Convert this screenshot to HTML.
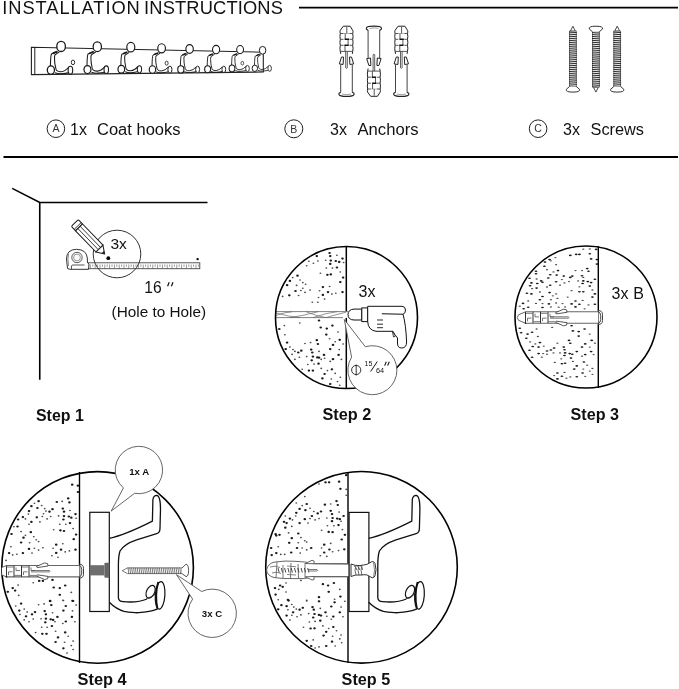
<!DOCTYPE html>
<html><head><meta charset="utf-8"><style>html,body{margin:0;padding:0;background:#fff;}svg{display:block;will-change:transform}</style></head>
<body><svg width="679" height="689" viewBox="0 0 679 689">
<rect width="679" height="689" fill="#fff"/>
<text x="2.3" y="14.2" font-family="Liberation Sans, sans-serif" font-size="18.3" textLength="137.5" lengthAdjust="spacing" fill="#111">INSTALLATION</text>
<text x="144.1" y="14.2" font-family="Liberation Sans, sans-serif" font-size="18.3" textLength="138.8" lengthAdjust="spacing" fill="#111">INSTRUCTIONS</text>
<line x1="299" y1="7.6" x2="678" y2="7.6" stroke="#000" stroke-width="1.6"/>
<line x1="3.5" y1="157.1" x2="678" y2="157.1" stroke="#000" stroke-width="2"/>
<circle cx="55.9" cy="128.7" r="8.8" fill="none" stroke="#222" stroke-width="1"/>
<text x="55.9" y="132.39999999999998" font-family="Liberation Sans, sans-serif" font-size="10.5" text-anchor="middle" fill="#333">A</text>
<circle cx="293.8" cy="128.8" r="9" fill="none" stroke="#222" stroke-width="1"/>
<text x="293.8" y="132.5" font-family="Liberation Sans, sans-serif" font-size="10.5" text-anchor="middle" fill="#333">B</text>
<circle cx="538.1" cy="128.7" r="8.8" fill="none" stroke="#222" stroke-width="1"/>
<text x="538.1" y="132.39999999999998" font-family="Liberation Sans, sans-serif" font-size="10.5" text-anchor="middle" fill="#333">C</text>
<text x="70" y="134.8" font-family="Liberation Sans, sans-serif" font-size="16" fill="#111">1x</text>
<text x="97" y="134.8" font-family="Liberation Sans, sans-serif" font-size="16" textLength="83.5" lengthAdjust="spacingAndGlyphs" fill="#111">Coat hooks</text>
<text x="330" y="134.8" font-family="Liberation Sans, sans-serif" font-size="16" fill="#111">3x</text>
<text x="357.5" y="134.8" font-family="Liberation Sans, sans-serif" font-size="16" textLength="61" lengthAdjust="spacingAndGlyphs" fill="#111">Anchors</text>
<text x="563" y="134.8" font-family="Liberation Sans, sans-serif" font-size="16" fill="#111">3x</text>
<text x="590.5" y="134.8" font-family="Liberation Sans, sans-serif" font-size="16" textLength="53.5" lengthAdjust="spacingAndGlyphs" fill="#111">Screws</text>
<path d="M31.4 47.2 L263.3 52.2 L263.3 72 L31.4 74.6 Z" fill="#fff" stroke="#222" stroke-width="1.1"/>
<line x1="34.8" y1="47.3" x2="34.8" y2="74.5" stroke="#222" stroke-width="1"/>
<g transform="translate(61.1,46.4) scale(1.0)" fill="#fff" stroke="#1a1a1a" stroke-width="1.1"><path d="M-3.5 5 L-9.6 7.6 Q-10.5 9 -10.7 20 M-1.7 5.5 L-6.1 8.4 Q-6.8 10 -6.6 11.9 Q-6.5 17 -5.8 19.5 Q-5 24 -4.3 24.1 Q-3 25.5 0 25.3 Q4 25 7.9 20.6 M-6.1 26.4 Q-3 27.6 0 27.4 Q5 27 8 26.2" fill="none"/><path d="M-8.3 7 L-4 5.3" fill="none" stroke-width="1.8"/><ellipse cx="0" cy="0" rx="4.3" ry="5.1" stroke-width="1.3"/><ellipse cx="-10.2" cy="23.7" rx="3.6" ry="4.2" stroke-width="1.3"/><ellipse cx="9.3" cy="23.8" rx="2.3" ry="3.9" stroke-width="1.1"/><ellipse cx="11.9" cy="16" rx="1.7" ry="2.3" stroke-width="0.9"/></g>
<g transform="translate(97.3,46.7) scale(0.965)" fill="#fff" stroke="#1a1a1a" stroke-width="1.1"><path d="M-3.5 5 L-9.6 7.6 Q-10.5 9 -10.7 20 M-1.7 5.5 L-6.1 8.4 Q-6.8 10 -6.6 11.9 Q-6.5 17 -5.8 19.5 Q-5 24 -4.3 24.1 Q-3 25.5 0 25.3 Q4 25 7.9 20.6 M-6.1 26.4 Q-3 27.6 0 27.4 Q5 27 8 26.2" fill="none"/><path d="M-8.3 7 L-4 5.3" fill="none" stroke-width="1.8"/><ellipse cx="0" cy="0" rx="4.3" ry="5.1" stroke-width="1.3"/><ellipse cx="-10.2" cy="23.7" rx="3.6" ry="4.2" stroke-width="1.3"/><ellipse cx="9.3" cy="23.8" rx="2.3" ry="3.9" stroke-width="1.1"/></g>
<g transform="translate(130.8,47.2) scale(0.93)" fill="#fff" stroke="#1a1a1a" stroke-width="1.1"><path d="M-3.5 5 L-9.6 7.6 Q-10.5 9 -10.7 20 M-1.7 5.5 L-6.1 8.4 Q-6.8 10 -6.6 11.9 Q-6.5 17 -5.8 19.5 Q-5 24 -4.3 24.1 Q-3 25.5 0 25.3 Q4 25 7.9 20.6 M-6.1 26.4 Q-3 27.6 0 27.4 Q5 27 8 26.2" fill="none"/><path d="M-8.3 7 L-4 5.3" fill="none" stroke-width="1.8"/><ellipse cx="0" cy="0" rx="4.3" ry="5.1" stroke-width="1.3"/><ellipse cx="-10.2" cy="23.7" rx="3.6" ry="4.2" stroke-width="1.3"/><ellipse cx="9.3" cy="23.8" rx="2.3" ry="3.9" stroke-width="1.1"/></g>
<g transform="translate(161.6,48.3) scale(0.895)" fill="#fff" stroke="#1a1a1a" stroke-width="1.1"><path d="M-3.5 5 L-9.6 7.6 Q-10.5 9 -10.7 20 M-1.7 5.5 L-6.1 8.4 Q-6.8 10 -6.6 11.9 Q-6.5 17 -5.8 19.5 Q-5 24 -4.3 24.1 Q-3 25.5 0 25.3 Q4 25 7.9 20.6 M-6.1 26.4 Q-3 27.6 0 27.4 Q5 27 8 26.2" fill="none"/><path d="M-8.3 7 L-4 5.3" fill="none" stroke-width="1.8"/><ellipse cx="0" cy="0" rx="4.3" ry="5.1" stroke-width="1.3"/><ellipse cx="-10.2" cy="23.7" rx="3.6" ry="4.2" stroke-width="1.3"/><ellipse cx="9.3" cy="23.8" rx="2.3" ry="3.9" stroke-width="1.1"/><ellipse cx="5.6" cy="16.6" rx="1.7" ry="2.3" stroke-width="0.9"/></g>
<g transform="translate(189.6,49) scale(0.86)" fill="#fff" stroke="#1a1a1a" stroke-width="1.1"><path d="M-3.5 5 L-9.6 7.6 Q-10.5 9 -10.7 20 M-1.7 5.5 L-6.1 8.4 Q-6.8 10 -6.6 11.9 Q-6.5 17 -5.8 19.5 Q-5 24 -4.3 24.1 Q-3 25.5 0 25.3 Q4 25 7.9 20.6 M-6.1 26.4 Q-3 27.6 0 27.4 Q5 27 8 26.2" fill="none"/><path d="M-8.3 7 L-4 5.3" fill="none" stroke-width="1.8"/><ellipse cx="0" cy="0" rx="4.3" ry="5.1" stroke-width="1.3"/><ellipse cx="-10.2" cy="23.7" rx="3.6" ry="4.2" stroke-width="1.3"/><ellipse cx="9.3" cy="23.8" rx="2.3" ry="3.9" stroke-width="1.1"/></g>
<g transform="translate(216.1,49.6) scale(0.83)" fill="#fff" stroke="#1a1a1a" stroke-width="1.1"><path d="M-3.5 5 L-9.6 7.6 Q-10.5 9 -10.7 20 M-1.7 5.5 L-6.1 8.4 Q-6.8 10 -6.6 11.9 Q-6.5 17 -5.8 19.5 Q-5 24 -4.3 24.1 Q-3 25.5 0 25.3 Q4 25 7.9 20.6 M-6.1 26.4 Q-3 27.6 0 27.4 Q5 27 8 26.2" fill="none"/><path d="M-8.3 7 L-4 5.3" fill="none" stroke-width="1.8"/><ellipse cx="0" cy="0" rx="4.3" ry="5.1" stroke-width="1.3"/><ellipse cx="-10.2" cy="23.7" rx="3.6" ry="4.2" stroke-width="1.3"/><ellipse cx="9.3" cy="23.8" rx="2.3" ry="3.9" stroke-width="1.1"/></g>
<g transform="translate(240.1,49.6) scale(0.795)" fill="#fff" stroke="#1a1a1a" stroke-width="1.1"><path d="M-3.5 5 L-9.6 7.6 Q-10.5 9 -10.7 20 M-1.7 5.5 L-6.1 8.4 Q-6.8 10 -6.6 11.9 Q-6.5 17 -5.8 19.5 Q-5 24 -4.3 24.1 Q-3 25.5 0 25.3 Q4 25 7.9 20.6 M-6.1 26.4 Q-3 27.6 0 27.4 Q5 27 8 26.2" fill="none"/><path d="M-8.3 7 L-4 5.3" fill="none" stroke-width="1.8"/><ellipse cx="0" cy="0" rx="4.3" ry="5.1" stroke-width="1.3"/><ellipse cx="-10.2" cy="23.7" rx="3.6" ry="4.2" stroke-width="1.3"/><ellipse cx="9.3" cy="23.8" rx="2.3" ry="3.9" stroke-width="1.1"/><ellipse cx="2.8" cy="17.1" rx="1.7" ry="2.3" stroke-width="0.9"/></g>
<g transform="translate(262.6,50.3) scale(0.76)" fill="#fff" stroke="#1a1a1a" stroke-width="1.1"><path d="M-3.5 5 L-9.6 7.6 Q-10.5 9 -10.7 20 M-1.7 5.5 L-6.1 8.4 Q-6.8 10 -6.6 11.9 Q-6.5 17 -5.8 19.5 Q-5 24 -4.3 24.1 Q-3 25.5 0 25.3 Q4 25 7.9 20.6 M-6.1 26.4 Q-3 27.6 0 27.4 Q5 27 8 26.2" fill="none"/><path d="M-8.3 7 L-4 5.3" fill="none" stroke-width="1.8"/><ellipse cx="0" cy="0" rx="4.3" ry="5.1" stroke-width="1.3"/><ellipse cx="-10.2" cy="23.7" rx="3.6" ry="4.2" stroke-width="1.3"/><ellipse cx="9.3" cy="23.8" rx="2.3" ry="3.9" stroke-width="1.1"/></g>
<g transform="translate(346.5,25.9)" fill="#fff" stroke="#222" stroke-width="0.9"><path d="M-5.8 38.5 L-5.8 67.2 M5.8 38.5 L5.8 67.2" fill="none" stroke="#444" stroke-width="1"/><path d="M-5.8 66.5 Q-8 67 -7.5 68.6 Q-7 70.5 0 70.5 Q7 70.5 7.5 68.6 Q8 67 5.8 66.5" stroke-width="1.1"/><path d="M-4.5 68.2 Q0 69.2 4.5 68.2" fill="none" stroke="#777" stroke-width="0.7"/><path d="M-0.8 25.5 L-0.8 40 Q-1.2 42.5 0 42.5 Q1.2 42.5 0.8 40 L0.8 25.5" fill="#fff" stroke="#333" stroke-width="0.8"/><path d="M-3.2 0.3 L3.6 0.3 L6.2 4.4 Q6.9 6 6.2 7.6 Q6.9 10.5 6.2 13.4 Q6.9 16.4 6.2 19.4 Q6.9 22.4 6.2 25.5 L5.8 28 M-3.2 0.3 L-6.2 4.4 Q-6.9 6 -6.2 7.6 Q-6.9 10.5 -6.2 13.4 Q-6.9 16.4 -6.2 19.4 Q-6.9 22.4 -6.2 25.5 L-5.8 28" stroke-width="1"/><path d="M-6.2 7.6 L-3 7.6 M3 7.6 L6.2 7.6 M-6.2 13.4 L-3 13.4 M3 13.4 L6.2 13.4 M-6.2 19.4 L-3 19.4 M3 19.4 L6.2 19.4 M-6.2 25.5 L6.2 25.5" fill="none" stroke="#444" stroke-width="0.9"/><path d="M-3 7.6 L3 7.6 M-3 19.4 L-2 19.4 M2.2 13.4 L3 13.4" fill="none" stroke="#999" stroke-width="0.7"/><path d="M0.3 1 L0.3 7.6 M-1.3 7.6 L-1.3 13.4 M1.6 13.4 L1.6 19.4 M-1.5 19.4 L-1.5 25.5" fill="none" stroke="#444" stroke-width="0.9"/><path d="M-1.8 13.4 L2.5 13.4 M-2 19.4 L2.2 19.4" fill="none" stroke="#111" stroke-width="1.6"/><path d="M-5 31.1 L-3 31.1 L-3.4 38.6 L-7.2 38 Z M5 31.1 L3 31.1 L3.4 38.6 L7.2 38 Z" stroke="#222" stroke-width="1"/></g>
<g transform="translate(373.9,25.9) translate(0,70.7) scale(1,-1)" fill="#fff" stroke="#222" stroke-width="0.9"><path d="M-5.8 38.5 L-5.8 67.2 M5.8 38.5 L5.8 67.2" fill="none" stroke="#444" stroke-width="1"/><path d="M-5.8 66.5 Q-8 67 -7.5 68.6 Q-7 70.5 0 70.5 Q7 70.5 7.5 68.6 Q8 67 5.8 66.5" stroke-width="1.1"/><path d="M-4.5 68.2 Q0 69.2 4.5 68.2" fill="none" stroke="#777" stroke-width="0.7"/><path d="M-0.8 25.5 L-0.8 40 Q-1.2 42.5 0 42.5 Q1.2 42.5 0.8 40 L0.8 25.5" fill="#fff" stroke="#333" stroke-width="0.8"/><path d="M-3.2 0.3 L3.6 0.3 L6.2 4.4 Q6.9 6 6.2 7.6 Q6.9 10.5 6.2 13.4 Q6.9 16.4 6.2 19.4 Q6.9 22.4 6.2 25.5 L5.8 28 M-3.2 0.3 L-6.2 4.4 Q-6.9 6 -6.2 7.6 Q-6.9 10.5 -6.2 13.4 Q-6.9 16.4 -6.2 19.4 Q-6.9 22.4 -6.2 25.5 L-5.8 28" stroke-width="1"/><path d="M-6.2 7.6 L-3 7.6 M3 7.6 L6.2 7.6 M-6.2 13.4 L-3 13.4 M3 13.4 L6.2 13.4 M-6.2 19.4 L-3 19.4 M3 19.4 L6.2 19.4 M-6.2 25.5 L6.2 25.5" fill="none" stroke="#444" stroke-width="0.9"/><path d="M-3 7.6 L3 7.6 M-3 19.4 L-2 19.4 M2.2 13.4 L3 13.4" fill="none" stroke="#999" stroke-width="0.7"/><path d="M0.3 1 L0.3 7.6 M-1.3 7.6 L-1.3 13.4 M1.6 13.4 L1.6 19.4 M-1.5 19.4 L-1.5 25.5" fill="none" stroke="#444" stroke-width="0.9"/><path d="M-1.8 13.4 L2.5 13.4 M-2 19.4 L2.2 19.4" fill="none" stroke="#111" stroke-width="1.6"/><path d="M-5 31.1 L-3 31.1 L-3.4 38.6 L-7.2 38 Z M5 31.1 L3 31.1 L3.4 38.6 L7.2 38 Z" stroke="#222" stroke-width="1"/></g>
<g transform="translate(401.3,25.9)" fill="#fff" stroke="#222" stroke-width="0.9"><path d="M-5.8 38.5 L-5.8 67.2 M5.8 38.5 L5.8 67.2" fill="none" stroke="#444" stroke-width="1"/><path d="M-5.8 66.5 Q-8 67 -7.5 68.6 Q-7 70.5 0 70.5 Q7 70.5 7.5 68.6 Q8 67 5.8 66.5" stroke-width="1.1"/><path d="M-4.5 68.2 Q0 69.2 4.5 68.2" fill="none" stroke="#777" stroke-width="0.7"/><path d="M-0.8 25.5 L-0.8 40 Q-1.2 42.5 0 42.5 Q1.2 42.5 0.8 40 L0.8 25.5" fill="#fff" stroke="#333" stroke-width="0.8"/><path d="M-3.2 0.3 L3.6 0.3 L6.2 4.4 Q6.9 6 6.2 7.6 Q6.9 10.5 6.2 13.4 Q6.9 16.4 6.2 19.4 Q6.9 22.4 6.2 25.5 L5.8 28 M-3.2 0.3 L-6.2 4.4 Q-6.9 6 -6.2 7.6 Q-6.9 10.5 -6.2 13.4 Q-6.9 16.4 -6.2 19.4 Q-6.9 22.4 -6.2 25.5 L-5.8 28" stroke-width="1"/><path d="M-6.2 7.6 L-3 7.6 M3 7.6 L6.2 7.6 M-6.2 13.4 L-3 13.4 M3 13.4 L6.2 13.4 M-6.2 19.4 L-3 19.4 M3 19.4 L6.2 19.4 M-6.2 25.5 L6.2 25.5" fill="none" stroke="#444" stroke-width="0.9"/><path d="M-3 7.6 L3 7.6 M-3 19.4 L-2 19.4 M2.2 13.4 L3 13.4" fill="none" stroke="#999" stroke-width="0.7"/><path d="M0.3 1 L0.3 7.6 M-1.3 7.6 L-1.3 13.4 M1.6 13.4 L1.6 19.4 M-1.5 19.4 L-1.5 25.5" fill="none" stroke="#444" stroke-width="0.9"/><path d="M-1.8 13.4 L2.5 13.4 M-2 19.4 L2.2 19.4" fill="none" stroke="#111" stroke-width="1.6"/><path d="M-5 31.1 L-3 31.1 L-3.4 38.6 L-7.2 38 Z M5 31.1 L3 31.1 L3.4 38.6 L7.2 38 Z" stroke="#222" stroke-width="1"/></g>
<g transform="translate(572.9,25.9)" fill="#fff" stroke="#333" stroke-width="0.8"><path d="M0 0.3 L-2.5 5.2 L2.5 5.2 Z" stroke-width="0.9"/><rect x="-3.4" y="5.2" width="6.8" height="55.4" fill="#e4e4e4" stroke="#666" stroke-width="0.8"/><line x1="-3.9" y1="6.20" x2="3.9" y2="6.70" stroke="#1a1a1a" stroke-width="0.9"/><line x1="-3.9" y1="8.27" x2="3.9" y2="8.77" stroke="#1a1a1a" stroke-width="0.9"/><line x1="-3.9" y1="10.34" x2="3.9" y2="10.84" stroke="#1a1a1a" stroke-width="0.9"/><line x1="-3.9" y1="12.41" x2="3.9" y2="12.91" stroke="#1a1a1a" stroke-width="0.9"/><line x1="-3.9" y1="14.48" x2="3.9" y2="14.98" stroke="#1a1a1a" stroke-width="0.9"/><line x1="-3.9" y1="16.55" x2="3.9" y2="17.05" stroke="#1a1a1a" stroke-width="0.9"/><line x1="-3.9" y1="18.62" x2="3.9" y2="19.12" stroke="#1a1a1a" stroke-width="0.9"/><line x1="-3.9" y1="20.69" x2="3.9" y2="21.19" stroke="#1a1a1a" stroke-width="0.9"/><line x1="-3.9" y1="22.76" x2="3.9" y2="23.26" stroke="#1a1a1a" stroke-width="0.9"/><line x1="-3.9" y1="24.83" x2="3.9" y2="25.33" stroke="#1a1a1a" stroke-width="0.9"/><line x1="-3.9" y1="26.90" x2="3.9" y2="27.40" stroke="#1a1a1a" stroke-width="0.9"/><line x1="-3.9" y1="28.97" x2="3.9" y2="29.47" stroke="#1a1a1a" stroke-width="0.9"/><line x1="-3.9" y1="31.04" x2="3.9" y2="31.54" stroke="#1a1a1a" stroke-width="0.9"/><line x1="-3.9" y1="33.11" x2="3.9" y2="33.61" stroke="#1a1a1a" stroke-width="0.9"/><line x1="-3.9" y1="35.18" x2="3.9" y2="35.68" stroke="#1a1a1a" stroke-width="0.9"/><line x1="-3.9" y1="37.25" x2="3.9" y2="37.75" stroke="#1a1a1a" stroke-width="0.9"/><line x1="-3.9" y1="39.32" x2="3.9" y2="39.82" stroke="#1a1a1a" stroke-width="0.9"/><line x1="-3.9" y1="41.39" x2="3.9" y2="41.89" stroke="#1a1a1a" stroke-width="0.9"/><line x1="-3.9" y1="43.46" x2="3.9" y2="43.96" stroke="#1a1a1a" stroke-width="0.9"/><line x1="-3.9" y1="45.53" x2="3.9" y2="46.03" stroke="#1a1a1a" stroke-width="0.9"/><line x1="-3.9" y1="47.60" x2="3.9" y2="48.10" stroke="#1a1a1a" stroke-width="0.9"/><line x1="-3.9" y1="49.67" x2="3.9" y2="50.17" stroke="#1a1a1a" stroke-width="0.9"/><line x1="-3.9" y1="51.74" x2="3.9" y2="52.24" stroke="#1a1a1a" stroke-width="0.9"/><line x1="-3.9" y1="53.81" x2="3.9" y2="54.31" stroke="#1a1a1a" stroke-width="0.9"/><line x1="-3.9" y1="55.88" x2="3.9" y2="56.38" stroke="#1a1a1a" stroke-width="0.9"/><line x1="-3.9" y1="57.95" x2="3.9" y2="58.45" stroke="#1a1a1a" stroke-width="0.9"/><line x1="-3.9" y1="60.02" x2="3.9" y2="60.52" stroke="#1a1a1a" stroke-width="0.9"/><path d="M-3.4 60.6 L-6.6 63.4 Q-7.6 66.2 0 66.2 Q7.6 66.2 6.6 63.4 L3.4 60.6" stroke-width="1"/></g>
<g transform="translate(595.9,25.9) translate(0,66.5) scale(1,-1)" fill="#fff" stroke="#333" stroke-width="0.8"><path d="M0 0.3 L-2.5 5.2 L2.5 5.2 Z" stroke-width="0.9"/><rect x="-3.4" y="5.2" width="6.8" height="55.4" fill="#e4e4e4" stroke="#666" stroke-width="0.8"/><line x1="-3.9" y1="6.20" x2="3.9" y2="6.70" stroke="#1a1a1a" stroke-width="0.9"/><line x1="-3.9" y1="8.27" x2="3.9" y2="8.77" stroke="#1a1a1a" stroke-width="0.9"/><line x1="-3.9" y1="10.34" x2="3.9" y2="10.84" stroke="#1a1a1a" stroke-width="0.9"/><line x1="-3.9" y1="12.41" x2="3.9" y2="12.91" stroke="#1a1a1a" stroke-width="0.9"/><line x1="-3.9" y1="14.48" x2="3.9" y2="14.98" stroke="#1a1a1a" stroke-width="0.9"/><line x1="-3.9" y1="16.55" x2="3.9" y2="17.05" stroke="#1a1a1a" stroke-width="0.9"/><line x1="-3.9" y1="18.62" x2="3.9" y2="19.12" stroke="#1a1a1a" stroke-width="0.9"/><line x1="-3.9" y1="20.69" x2="3.9" y2="21.19" stroke="#1a1a1a" stroke-width="0.9"/><line x1="-3.9" y1="22.76" x2="3.9" y2="23.26" stroke="#1a1a1a" stroke-width="0.9"/><line x1="-3.9" y1="24.83" x2="3.9" y2="25.33" stroke="#1a1a1a" stroke-width="0.9"/><line x1="-3.9" y1="26.90" x2="3.9" y2="27.40" stroke="#1a1a1a" stroke-width="0.9"/><line x1="-3.9" y1="28.97" x2="3.9" y2="29.47" stroke="#1a1a1a" stroke-width="0.9"/><line x1="-3.9" y1="31.04" x2="3.9" y2="31.54" stroke="#1a1a1a" stroke-width="0.9"/><line x1="-3.9" y1="33.11" x2="3.9" y2="33.61" stroke="#1a1a1a" stroke-width="0.9"/><line x1="-3.9" y1="35.18" x2="3.9" y2="35.68" stroke="#1a1a1a" stroke-width="0.9"/><line x1="-3.9" y1="37.25" x2="3.9" y2="37.75" stroke="#1a1a1a" stroke-width="0.9"/><line x1="-3.9" y1="39.32" x2="3.9" y2="39.82" stroke="#1a1a1a" stroke-width="0.9"/><line x1="-3.9" y1="41.39" x2="3.9" y2="41.89" stroke="#1a1a1a" stroke-width="0.9"/><line x1="-3.9" y1="43.46" x2="3.9" y2="43.96" stroke="#1a1a1a" stroke-width="0.9"/><line x1="-3.9" y1="45.53" x2="3.9" y2="46.03" stroke="#1a1a1a" stroke-width="0.9"/><line x1="-3.9" y1="47.60" x2="3.9" y2="48.10" stroke="#1a1a1a" stroke-width="0.9"/><line x1="-3.9" y1="49.67" x2="3.9" y2="50.17" stroke="#1a1a1a" stroke-width="0.9"/><line x1="-3.9" y1="51.74" x2="3.9" y2="52.24" stroke="#1a1a1a" stroke-width="0.9"/><line x1="-3.9" y1="53.81" x2="3.9" y2="54.31" stroke="#1a1a1a" stroke-width="0.9"/><line x1="-3.9" y1="55.88" x2="3.9" y2="56.38" stroke="#1a1a1a" stroke-width="0.9"/><line x1="-3.9" y1="57.95" x2="3.9" y2="58.45" stroke="#1a1a1a" stroke-width="0.9"/><line x1="-3.9" y1="60.02" x2="3.9" y2="60.52" stroke="#1a1a1a" stroke-width="0.9"/><path d="M-3.4 60.6 L-6.6 63.4 Q-7.6 66.2 0 66.2 Q7.6 66.2 6.6 63.4 L3.4 60.6" stroke-width="1"/></g>
<g transform="translate(617.2,25.9)" fill="#fff" stroke="#333" stroke-width="0.8"><path d="M0 0.3 L-2.5 5.2 L2.5 5.2 Z" stroke-width="0.9"/><rect x="-3.4" y="5.2" width="6.8" height="55.4" fill="#e4e4e4" stroke="#666" stroke-width="0.8"/><line x1="-3.9" y1="6.20" x2="3.9" y2="6.70" stroke="#1a1a1a" stroke-width="0.9"/><line x1="-3.9" y1="8.27" x2="3.9" y2="8.77" stroke="#1a1a1a" stroke-width="0.9"/><line x1="-3.9" y1="10.34" x2="3.9" y2="10.84" stroke="#1a1a1a" stroke-width="0.9"/><line x1="-3.9" y1="12.41" x2="3.9" y2="12.91" stroke="#1a1a1a" stroke-width="0.9"/><line x1="-3.9" y1="14.48" x2="3.9" y2="14.98" stroke="#1a1a1a" stroke-width="0.9"/><line x1="-3.9" y1="16.55" x2="3.9" y2="17.05" stroke="#1a1a1a" stroke-width="0.9"/><line x1="-3.9" y1="18.62" x2="3.9" y2="19.12" stroke="#1a1a1a" stroke-width="0.9"/><line x1="-3.9" y1="20.69" x2="3.9" y2="21.19" stroke="#1a1a1a" stroke-width="0.9"/><line x1="-3.9" y1="22.76" x2="3.9" y2="23.26" stroke="#1a1a1a" stroke-width="0.9"/><line x1="-3.9" y1="24.83" x2="3.9" y2="25.33" stroke="#1a1a1a" stroke-width="0.9"/><line x1="-3.9" y1="26.90" x2="3.9" y2="27.40" stroke="#1a1a1a" stroke-width="0.9"/><line x1="-3.9" y1="28.97" x2="3.9" y2="29.47" stroke="#1a1a1a" stroke-width="0.9"/><line x1="-3.9" y1="31.04" x2="3.9" y2="31.54" stroke="#1a1a1a" stroke-width="0.9"/><line x1="-3.9" y1="33.11" x2="3.9" y2="33.61" stroke="#1a1a1a" stroke-width="0.9"/><line x1="-3.9" y1="35.18" x2="3.9" y2="35.68" stroke="#1a1a1a" stroke-width="0.9"/><line x1="-3.9" y1="37.25" x2="3.9" y2="37.75" stroke="#1a1a1a" stroke-width="0.9"/><line x1="-3.9" y1="39.32" x2="3.9" y2="39.82" stroke="#1a1a1a" stroke-width="0.9"/><line x1="-3.9" y1="41.39" x2="3.9" y2="41.89" stroke="#1a1a1a" stroke-width="0.9"/><line x1="-3.9" y1="43.46" x2="3.9" y2="43.96" stroke="#1a1a1a" stroke-width="0.9"/><line x1="-3.9" y1="45.53" x2="3.9" y2="46.03" stroke="#1a1a1a" stroke-width="0.9"/><line x1="-3.9" y1="47.60" x2="3.9" y2="48.10" stroke="#1a1a1a" stroke-width="0.9"/><line x1="-3.9" y1="49.67" x2="3.9" y2="50.17" stroke="#1a1a1a" stroke-width="0.9"/><line x1="-3.9" y1="51.74" x2="3.9" y2="52.24" stroke="#1a1a1a" stroke-width="0.9"/><line x1="-3.9" y1="53.81" x2="3.9" y2="54.31" stroke="#1a1a1a" stroke-width="0.9"/><line x1="-3.9" y1="55.88" x2="3.9" y2="56.38" stroke="#1a1a1a" stroke-width="0.9"/><line x1="-3.9" y1="57.95" x2="3.9" y2="58.45" stroke="#1a1a1a" stroke-width="0.9"/><line x1="-3.9" y1="60.02" x2="3.9" y2="60.52" stroke="#1a1a1a" stroke-width="0.9"/><path d="M-3.4 60.6 L-6.6 63.4 Q-7.6 66.2 0 66.2 Q7.6 66.2 6.6 63.4 L3.4 60.6" stroke-width="1"/></g>
<path d="M12.2 188.4 L39.75 202.5 L207.5 202.5 M39.75 202.5 L39.75 379.8" fill="none" stroke="#000" stroke-width="1.6"/>
<rect x="86" y="262.8" width="113.8" height="5.9" fill="#fff" stroke="#444" stroke-width="0.9"/>
<line x1="88.0" y1="264.5" x2="88.0" y2="266.7" stroke="#555" stroke-width="0.6"/><line x1="90.4" y1="264.5" x2="90.4" y2="268.7" stroke="#555" stroke-width="0.6"/><line x1="92.8" y1="264.5" x2="92.8" y2="266.7" stroke="#555" stroke-width="0.6"/><line x1="95.2" y1="264.5" x2="95.2" y2="268.7" stroke="#555" stroke-width="0.6"/><line x1="97.6" y1="264.5" x2="97.6" y2="266.7" stroke="#555" stroke-width="0.6"/><line x1="100.0" y1="264.5" x2="100.0" y2="268.7" stroke="#555" stroke-width="0.6"/><line x1="102.4" y1="264.5" x2="102.4" y2="266.7" stroke="#555" stroke-width="0.6"/><line x1="104.8" y1="264.5" x2="104.8" y2="268.7" stroke="#555" stroke-width="0.6"/><line x1="107.2" y1="264.5" x2="107.2" y2="266.7" stroke="#555" stroke-width="0.6"/><line x1="109.6" y1="264.5" x2="109.6" y2="268.7" stroke="#555" stroke-width="0.6"/><line x1="112.0" y1="264.5" x2="112.0" y2="266.7" stroke="#555" stroke-width="0.6"/><line x1="114.4" y1="264.5" x2="114.4" y2="268.7" stroke="#555" stroke-width="0.6"/><line x1="116.8" y1="264.5" x2="116.8" y2="266.7" stroke="#555" stroke-width="0.6"/><line x1="119.2" y1="264.5" x2="119.2" y2="268.7" stroke="#555" stroke-width="0.6"/><line x1="121.6" y1="264.5" x2="121.6" y2="266.7" stroke="#555" stroke-width="0.6"/><line x1="124.0" y1="264.5" x2="124.0" y2="268.7" stroke="#555" stroke-width="0.6"/><line x1="126.4" y1="264.5" x2="126.4" y2="266.7" stroke="#555" stroke-width="0.6"/><line x1="128.8" y1="264.5" x2="128.8" y2="268.7" stroke="#555" stroke-width="0.6"/><line x1="131.2" y1="264.5" x2="131.2" y2="266.7" stroke="#555" stroke-width="0.6"/><line x1="133.6" y1="264.5" x2="133.6" y2="268.7" stroke="#555" stroke-width="0.6"/><line x1="136.0" y1="264.5" x2="136.0" y2="266.7" stroke="#555" stroke-width="0.6"/><line x1="138.4" y1="264.5" x2="138.4" y2="268.7" stroke="#555" stroke-width="0.6"/><line x1="140.8" y1="264.5" x2="140.8" y2="266.7" stroke="#555" stroke-width="0.6"/><line x1="143.2" y1="264.5" x2="143.2" y2="268.7" stroke="#555" stroke-width="0.6"/><line x1="145.6" y1="264.5" x2="145.6" y2="266.7" stroke="#555" stroke-width="0.6"/><line x1="148.0" y1="264.5" x2="148.0" y2="268.7" stroke="#555" stroke-width="0.6"/><line x1="150.4" y1="264.5" x2="150.4" y2="266.7" stroke="#555" stroke-width="0.6"/><line x1="152.8" y1="264.5" x2="152.8" y2="268.7" stroke="#555" stroke-width="0.6"/><line x1="155.2" y1="264.5" x2="155.2" y2="266.7" stroke="#555" stroke-width="0.6"/><line x1="157.6" y1="264.5" x2="157.6" y2="268.7" stroke="#555" stroke-width="0.6"/><line x1="160.0" y1="264.5" x2="160.0" y2="266.7" stroke="#555" stroke-width="0.6"/><line x1="162.4" y1="264.5" x2="162.4" y2="268.7" stroke="#555" stroke-width="0.6"/><line x1="164.8" y1="264.5" x2="164.8" y2="266.7" stroke="#555" stroke-width="0.6"/><line x1="167.2" y1="264.5" x2="167.2" y2="268.7" stroke="#555" stroke-width="0.6"/><line x1="169.6" y1="264.5" x2="169.6" y2="266.7" stroke="#555" stroke-width="0.6"/><line x1="172.0" y1="264.5" x2="172.0" y2="268.7" stroke="#555" stroke-width="0.6"/><line x1="174.4" y1="264.5" x2="174.4" y2="266.7" stroke="#555" stroke-width="0.6"/><line x1="176.8" y1="264.5" x2="176.8" y2="268.7" stroke="#555" stroke-width="0.6"/><line x1="179.2" y1="264.5" x2="179.2" y2="266.7" stroke="#555" stroke-width="0.6"/><line x1="181.6" y1="264.5" x2="181.6" y2="268.7" stroke="#555" stroke-width="0.6"/><line x1="184.0" y1="264.5" x2="184.0" y2="266.7" stroke="#555" stroke-width="0.6"/><line x1="186.4" y1="264.5" x2="186.4" y2="268.7" stroke="#555" stroke-width="0.6"/><line x1="188.8" y1="264.5" x2="188.8" y2="266.7" stroke="#555" stroke-width="0.6"/><line x1="191.2" y1="264.5" x2="191.2" y2="268.7" stroke="#555" stroke-width="0.6"/><line x1="193.6" y1="264.5" x2="193.6" y2="266.7" stroke="#555" stroke-width="0.6"/><line x1="196.0" y1="264.5" x2="196.0" y2="268.7" stroke="#555" stroke-width="0.6"/><line x1="198.4" y1="264.5" x2="198.4" y2="266.7" stroke="#555" stroke-width="0.6"/>
<path d="M67.5 268.5 L66.5 259 Q66.5 249.5 76.5 249.3 Q86.5 249.5 87.3 258 L87.5 262.8 L89 264 L88.5 269.3 L70 269.3 Z" fill="#fff" stroke="#333" stroke-width="1"/>
<circle cx="77" cy="257.5" r="5.2" fill="#fff" stroke="#444" stroke-width="0.9"/><circle cx="77" cy="257.5" r="3.4" fill="#fff" stroke="#666" stroke-width="0.7"/>
<path d="M71.5 269 L71.5 266 Q71.5 265 73 265 L84.5 265" fill="none" stroke="#444" stroke-width="0.9"/><path d="M68.5 254 Q67.5 259 68.5 266" fill="none" stroke="#555" stroke-width="0.7"/>
<circle cx="117" cy="254" r="23.8" fill="none" stroke="#333" stroke-width="1"/>
<text x="110.5" y="248.9" font-family="Liberation Sans, sans-serif" font-size="15.5" fill="#111">3x</text>
<circle cx="108.3" cy="258.2" r="1.9" fill="#000"/><circle cx="197.6" cy="259.1" r="1.2" fill="#000"/>
<g transform="translate(104.6,253.9) rotate(-134)" fill="#fff" stroke="#1a1a1a" stroke-width="1"><path d="M0 0 L7.5 -4.9 L7.5 4.9 Z"/><path d="M0 0 L2.6 -1.7 L2.6 1.7 Z" fill="#222" stroke="none"/><rect x="7.5" y="-4.9" width="29.5" height="9.8"/><line x1="7.5" y1="-1.6" x2="37" y2="-1.6" stroke-width="0.8"/><line x1="7.5" y1="1.6" x2="37" y2="1.6" stroke-width="0.8"/><path d="M37 -4.9 L41.5 -4.9 Q43 -4.9 43 -3.4 L43 3.4 Q43 4.9 41.5 4.9 L37 4.9 Z"/><line x1="38.8" y1="-4.9" x2="38.8" y2="4.9" stroke-width="0.8"/></g>
<text x="144.3" y="292.5" font-family="Liberation Sans, sans-serif" font-size="15.6" fill="#111">16</text>
<path d="M169.2 282.3 L167.6 286.2 M173 282.3 L171.4 286.2" stroke="#111" stroke-width="1.2"/>
<text x="111.6" y="316.9" font-family="Liberation Sans, sans-serif" font-size="14" textLength="94.5" lengthAdjust="spacingAndGlyphs" fill="#111">(Hole to Hole)</text>
<text x="36" y="420.7" font-family="Liberation Sans, sans-serif" font-size="16" font-weight="bold" textLength="47.8" lengthAdjust="spacingAndGlyphs" fill="#111">Step 1</text>
<text x="322.5" y="420.4" font-family="Liberation Sans, sans-serif" font-size="16" font-weight="bold" textLength="48.8" lengthAdjust="spacingAndGlyphs" fill="#111">Step 2</text>
<text x="570.6" y="420.4" font-family="Liberation Sans, sans-serif" font-size="16" font-weight="bold" textLength="48.4" lengthAdjust="spacingAndGlyphs" fill="#111">Step 3</text>
<text x="77.5" y="685.2" font-family="Liberation Sans, sans-serif" font-size="16" font-weight="bold" textLength="49.2" lengthAdjust="spacingAndGlyphs" fill="#111">Step 4</text>
<text x="341.6" y="685.2" font-family="Liberation Sans, sans-serif" font-size="16" font-weight="bold" textLength="48.6" lengthAdjust="spacingAndGlyphs" fill="#111">Step 5</text>
<defs><clipPath id="c2"><circle cx="346.5" cy="317.5" r="71"/></clipPath><clipPath id="c3"><circle cx="586" cy="317" r="71"/></clipPath><clipPath id="c4"><circle cx="97.6" cy="567.4" r="95.8"/></clipPath><clipPath id="c5"><circle cx="361.5" cy="567.3" r="95.8"/></clipPath></defs>
<ellipse cx="316.8" cy="256.1" rx="1.3" ry="1.1" fill="#1a1a1a"/><ellipse cx="308.9" cy="261.3" rx="0.95" ry="0.8" fill="#4a4a4a"/><ellipse cx="317.9" cy="261.0" rx="0.95" ry="0.8" fill="#4a4a4a"/><ellipse cx="313.4" cy="263.3" rx="0.95" ry="0.8" fill="#4a4a4a"/><ellipse cx="329.6" cy="253.0" rx="1.3" ry="1.1" fill="#1a1a1a"/><ellipse cx="330.2" cy="256.1" rx="1.3" ry="1.1" fill="#1a1a1a"/><ellipse cx="336.9" cy="255.2" rx="0.95" ry="0.8" fill="#4a4a4a"/><ellipse cx="342.5" cy="258.6" rx="1.3" ry="1.1" fill="#1a1a1a"/><ellipse cx="325.7" cy="260.2" rx="0.95" ry="0.8" fill="#4a4a4a"/><ellipse cx="330.8" cy="260.6" rx="1.3" ry="1.1" fill="#1a1a1a"/><ellipse cx="335.8" cy="261.0" rx="1.3" ry="1.1" fill="#1a1a1a"/><ellipse cx="339.2" cy="261.9" rx="1.3" ry="1.1" fill="#1a1a1a"/><ellipse cx="343.6" cy="262.5" rx="0.95" ry="0.8" fill="#4a4a4a"/><ellipse cx="330.2" cy="263.9" rx="1.3" ry="1.1" fill="#1a1a1a"/><ellipse cx="306.7" cy="265.8" rx="0.95" ry="0.8" fill="#4a4a4a"/><ellipse cx="326.3" cy="268.1" rx="0.95" ry="0.8" fill="#4a4a4a"/><ellipse cx="332.4" cy="268.1" rx="0.95" ry="0.8" fill="#4a4a4a"/><ellipse cx="336.9" cy="267.5" rx="1.3" ry="1.1" fill="#1a1a1a"/><ellipse cx="340.3" cy="272.0" rx="0.95" ry="0.8" fill="#4a4a4a"/><ellipse cx="320.4" cy="273.3" rx="0.95" ry="0.8" fill="#4a4a4a"/><ellipse cx="327.4" cy="274.8" rx="1.3" ry="1.1" fill="#1a1a1a"/><ellipse cx="330.8" cy="274.4" rx="1.3" ry="1.1" fill="#1a1a1a"/><ellipse cx="297.5" cy="275.7" rx="1.3" ry="1.1" fill="#1a1a1a"/><ellipse cx="292.7" cy="277.6" rx="0.95" ry="0.8" fill="#4a4a4a"/><ellipse cx="289.9" cy="280.9" rx="1.3" ry="1.1" fill="#1a1a1a"/><ellipse cx="300.0" cy="280.0" rx="0.95" ry="0.8" fill="#4a4a4a"/><ellipse cx="302.8" cy="282.6" rx="0.95" ry="0.8" fill="#4a4a4a"/><ellipse cx="305.6" cy="284.3" rx="0.95" ry="0.8" fill="#4a4a4a"/><ellipse cx="287.1" cy="285.2" rx="1.3" ry="1.1" fill="#1a1a1a"/><ellipse cx="296.6" cy="285.4" rx="0.95" ry="0.8" fill="#4a4a4a"/><ellipse cx="343.1" cy="277.6" rx="1.3" ry="1.1" fill="#1a1a1a"/><ellipse cx="340.3" cy="282.1" rx="1.3" ry="1.1" fill="#1a1a1a"/><ellipse cx="322.9" cy="287.1" rx="1.3" ry="1.1" fill="#1a1a1a"/><ellipse cx="329.6" cy="286.5" rx="0.95" ry="0.8" fill="#4a4a4a"/><ellipse cx="302.8" cy="288.2" rx="0.95" ry="0.8" fill="#4a4a4a"/><ellipse cx="295.5" cy="291.0" rx="1.3" ry="1.1" fill="#1a1a1a"/><ellipse cx="300.9" cy="290.5" rx="0.95" ry="0.8" fill="#4a4a4a"/><ellipse cx="310.1" cy="290.1" rx="0.95" ry="0.8" fill="#4a4a4a"/><ellipse cx="305.0" cy="292.4" rx="0.95" ry="0.8" fill="#4a4a4a"/><ellipse cx="319.6" cy="290.8" rx="0.95" ry="0.8" fill="#4a4a4a"/><ellipse cx="328.0" cy="292.1" rx="1.3" ry="1.1" fill="#1a1a1a"/><ellipse cx="331.9" cy="294.1" rx="0.95" ry="0.8" fill="#4a4a4a"/><ellipse cx="335.8" cy="293.2" rx="0.95" ry="0.8" fill="#4a4a4a"/><ellipse cx="342.5" cy="292.1" rx="1.3" ry="1.1" fill="#1a1a1a"/><ellipse cx="289.3" cy="295.3" rx="1.3" ry="1.1" fill="#1a1a1a"/><ellipse cx="282.6" cy="296.4" rx="0.95" ry="0.8" fill="#4a4a4a"/><ellipse cx="298.6" cy="295.5" rx="0.95" ry="0.8" fill="#4a4a4a"/><ellipse cx="322.9" cy="294.9" rx="1.3" ry="1.1" fill="#1a1a1a"/><ellipse cx="318.5" cy="297.5" rx="0.95" ry="0.8" fill="#4a4a4a"/><ellipse cx="324.6" cy="299.1" rx="0.95" ry="0.8" fill="#4a4a4a"/><ellipse cx="312.3" cy="302.2" rx="0.95" ry="0.8" fill="#4a4a4a"/><ellipse cx="317.9" cy="302.2" rx="0.95" ry="0.8" fill="#4a4a4a"/><ellipse cx="319.0" cy="320.5" rx="1.3" ry="1.1" fill="#1a1a1a"/><ellipse cx="299.8" cy="323.0" rx="0.95" ry="0.8" fill="#4a4a4a"/><ellipse cx="284.3" cy="325.6" rx="0.95" ry="0.8" fill="#4a4a4a"/><ellipse cx="279.3" cy="329.0" rx="1.3" ry="1.1" fill="#1a1a1a"/><ellipse cx="320.7" cy="327.5" rx="1.3" ry="1.1" fill="#1a1a1a"/><ellipse cx="326.8" cy="328.6" rx="1.3" ry="1.1" fill="#1a1a1a"/><ellipse cx="332.4" cy="325.6" rx="1.3" ry="1.1" fill="#1a1a1a"/><ellipse cx="338.0" cy="332.0" rx="0.95" ry="0.8" fill="#4a4a4a"/><ellipse cx="284.9" cy="334.8" rx="0.95" ry="0.8" fill="#4a4a4a"/><ellipse cx="326.3" cy="334.6" rx="1.3" ry="1.1" fill="#1a1a1a"/><ellipse cx="329.6" cy="338.7" rx="0.95" ry="0.8" fill="#4a4a4a"/><ellipse cx="316.8" cy="340.2" rx="1.3" ry="1.1" fill="#1a1a1a"/><ellipse cx="317.9" cy="344.0" rx="1.3" ry="1.1" fill="#1a1a1a"/><ellipse cx="310.6" cy="342.6" rx="0.95" ry="0.8" fill="#4a4a4a"/><ellipse cx="305.0" cy="343.5" rx="0.95" ry="0.8" fill="#4a4a4a"/><ellipse cx="287.1" cy="342.6" rx="1.3" ry="1.1" fill="#1a1a1a"/><ellipse cx="339.7" cy="339.8" rx="1.3" ry="1.1" fill="#1a1a1a"/><ellipse cx="343.1" cy="344.0" rx="0.95" ry="0.8" fill="#4a4a4a"/><ellipse cx="333.0" cy="344.9" rx="1.3" ry="1.1" fill="#1a1a1a"/><ellipse cx="335.2" cy="341.7" rx="0.95" ry="0.8" fill="#4a4a4a"/><ellipse cx="289.9" cy="347.1" rx="0.95" ry="0.8" fill="#4a4a4a"/><ellipse cx="285.7" cy="349.1" rx="1.3" ry="1.1" fill="#1a1a1a"/><ellipse cx="293.0" cy="349.6" rx="0.95" ry="0.8" fill="#4a4a4a"/><ellipse cx="294.9" cy="351.4" rx="0.95" ry="0.8" fill="#4a4a4a"/><ellipse cx="298.3" cy="352.5" rx="1.3" ry="1.1" fill="#1a1a1a"/><ellipse cx="301.3" cy="350.7" rx="1.3" ry="1.1" fill="#1a1a1a"/><ellipse cx="311.2" cy="349.6" rx="1.3" ry="1.1" fill="#1a1a1a"/><ellipse cx="312.3" cy="352.5" rx="1.3" ry="1.1" fill="#1a1a1a"/><ellipse cx="319.0" cy="351.4" rx="0.95" ry="0.8" fill="#4a4a4a"/><ellipse cx="330.2" cy="349.1" rx="1.3" ry="1.1" fill="#1a1a1a"/><ellipse cx="339.2" cy="349.6" rx="0.95" ry="0.8" fill="#4a4a4a"/><ellipse cx="292.1" cy="354.4" rx="0.95" ry="0.8" fill="#4a4a4a"/><ellipse cx="299.4" cy="357.2" rx="0.95" ry="0.8" fill="#4a4a4a"/><ellipse cx="306.7" cy="356.6" rx="0.95" ry="0.8" fill="#4a4a4a"/><ellipse cx="312.9" cy="356.6" rx="1.3" ry="1.1" fill="#1a1a1a"/><ellipse cx="317.3" cy="357.4" rx="1.3" ry="1.1" fill="#1a1a1a"/><ellipse cx="319.0" cy="357.7" rx="1.3" ry="1.1" fill="#1a1a1a"/><ellipse cx="321.2" cy="359.4" rx="0.95" ry="0.8" fill="#4a4a4a"/><ellipse cx="324.0" cy="354.9" rx="1.3" ry="1.1" fill="#1a1a1a"/><ellipse cx="324.6" cy="358.3" rx="0.95" ry="0.8" fill="#4a4a4a"/><ellipse cx="338.6" cy="354.9" rx="1.3" ry="1.1" fill="#1a1a1a"/><ellipse cx="333.0" cy="359.2" rx="1.3" ry="1.1" fill="#1a1a1a"/><ellipse cx="341.4" cy="359.4" rx="0.95" ry="0.8" fill="#4a4a4a"/><ellipse cx="294.9" cy="359.4" rx="0.95" ry="0.8" fill="#4a4a4a"/><ellipse cx="311.7" cy="360.3" rx="1.3" ry="1.1" fill="#1a1a1a"/><ellipse cx="307.8" cy="364.5" rx="0.95" ry="0.8" fill="#4a4a4a"/><ellipse cx="314.0" cy="364.1" rx="0.95" ry="0.8" fill="#4a4a4a"/><ellipse cx="318.5" cy="363.7" rx="1.3" ry="1.1" fill="#1a1a1a"/><ellipse cx="330.2" cy="361.4" rx="0.95" ry="0.8" fill="#4a4a4a"/><ellipse cx="302.2" cy="369.3" rx="0.95" ry="0.8" fill="#4a4a4a"/><ellipse cx="308.9" cy="370.6" rx="1.3" ry="1.1" fill="#1a1a1a"/><ellipse cx="312.9" cy="370.6" rx="1.3" ry="1.1" fill="#1a1a1a"/><ellipse cx="321.2" cy="368.4" rx="0.95" ry="0.8" fill="#4a4a4a"/><ellipse cx="327.4" cy="370.6" rx="0.95" ry="0.8" fill="#4a4a4a"/><ellipse cx="331.9" cy="369.3" rx="1.3" ry="1.1" fill="#1a1a1a"/><ellipse cx="324.6" cy="374.0" rx="1.3" ry="1.1" fill="#1a1a1a"/><ellipse cx="335.2" cy="373.4" rx="0.95" ry="0.8" fill="#4a4a4a"/><ellipse cx="322.4" cy="378.4" rx="1.3" ry="1.1" fill="#1a1a1a"/><ellipse cx="331.3" cy="379.0" rx="0.95" ry="0.8" fill="#4a4a4a"/><ellipse cx="340.3" cy="377.3" rx="0.95" ry="0.8" fill="#4a4a4a"/><ellipse cx="337.5" cy="381.6" rx="0.95" ry="0.8" fill="#4a4a4a"/><ellipse cx="330.2" cy="384.0" rx="1.3" ry="1.1" fill="#1a1a1a"/><ellipse cx="339.7" cy="385.2" rx="0.95" ry="0.8" fill="#4a4a4a"/>
<line x1="346.3" y1="246" x2="346.3" y2="389" stroke="#000" stroke-width="1.5"/>
<g clip-path="url(#c2)"><rect x="274" y="311.3" width="74" height="6.6" fill="#fff"/><path d="M274 311.6 L348 311.6 M274 317.6 L343 317.6" stroke="#555" stroke-width="0.75" fill="none"/><path d="M276 315.5 Q283 312.5 292 311.8 M276 313 Q290 317 300 317.5 M290 317.6 Q302 316 318 311.7 M306 311.7 Q318 316.5 326 317.6 M313 317.6 Q326 313 337 311.7 M326 317.6 Q338 314 346 312.2" stroke="#666" stroke-width="0.7" fill="none"/></g>
<circle cx="346.5" cy="317.5" r="71" fill="none" stroke="#000" stroke-width="1.6"/>
<g fill="#fff" stroke="#111" stroke-width="1"><path d="M361.8 309.1 L354 309.1 Q348 309.5 348 314.5 Q348 319.8 354 320 L361.8 320 Z"/><rect x="361.8" y="307.9" width="5.9" height="13.7"/><path d="M367.7 306.3 L402 306.3 Q405.5 306.5 405.5 310 Q405.5 313.5 403 314.2 Q406 325 406.6 342 Q406.6 348 401.5 348 Q397.5 348 397.5 343 L397.5 338 Q394 334 393 331.3 L376 331.3 Q368 330 367.7 321.6 Z"/><path d="M381.8 313.8 L403 314.2" fill="none" stroke-width="1.1"/><path d="M377.1 320 L383 320 M377.1 324.2 L383 324.2 M377.1 327.7 L383 327.7" fill="none" stroke-width="0.9"/><path d="M392.5 331.5 L395.5 336 L393.5 337 Z" stroke-width="0.8"/></g>
<path d="M344.3 319.5 L365.32 346.75 A24.5 24.5 0 1 1 351.62 357.22 Z" fill="#fff" stroke="#555" stroke-width="0.9" stroke-linejoin="round"/>
<circle cx="356.2" cy="370" r="4.6" fill="none" stroke="#222" stroke-width="0.9"/><line x1="356.2" y1="364.5" x2="356.2" y2="375.5" stroke="#222" stroke-width="0.9"/>
<text x="364.5" y="366.3" font-family="Liberation Sans, sans-serif" font-size="7" fill="#111">15</text>
<line x1="370.6" y1="371.5" x2="377.3" y2="361.5" stroke="#111" stroke-width="1"/>
<text x="376" y="373.3" font-family="Liberation Sans, sans-serif" font-size="7.3" fill="#111">64</text>
<path d="M386.3 361.8 L384.6 365.6 M389.3 361.8 L387.6 365.6" stroke="#111" stroke-width="1.1"/>
<text x="358.5" y="296.5" font-family="Liberation Sans, sans-serif" font-size="16" fill="#111">3x</text>
<ellipse cx="583.3" cy="249.2" rx="1.15" ry="0.65" fill="#4a4a4a"/><ellipse cx="589.8" cy="248.9" rx="1.15" ry="0.65" fill="#4a4a4a"/><ellipse cx="596.2" cy="249.4" rx="1.45" ry="0.8" fill="#1a1a1a"/><ellipse cx="570.3" cy="255.4" rx="1.45" ry="0.8" fill="#1a1a1a"/><ellipse cx="576.2" cy="254.4" rx="1.45" ry="0.8" fill="#1a1a1a"/><ellipse cx="579.4" cy="254.4" rx="1.45" ry="0.8" fill="#1a1a1a"/><ellipse cx="589.8" cy="253.7" rx="1.45" ry="0.8" fill="#1a1a1a"/><ellipse cx="591.1" cy="258.9" rx="1.45" ry="0.8" fill="#1a1a1a"/><ellipse cx="596.9" cy="259.6" rx="1.45" ry="0.8" fill="#1a1a1a"/><ellipse cx="596.9" cy="264.1" rx="1.45" ry="0.8" fill="#1a1a1a"/><ellipse cx="555.4" cy="257.6" rx="1.15" ry="0.65" fill="#4a4a4a"/><ellipse cx="549.6" cy="259.6" rx="1.45" ry="0.8" fill="#1a1a1a"/><ellipse cx="545.0" cy="262.1" rx="1.45" ry="0.8" fill="#1a1a1a"/><ellipse cx="550.9" cy="260.8" rx="1.15" ry="0.65" fill="#4a4a4a"/><ellipse cx="556.1" cy="264.7" rx="1.15" ry="0.65" fill="#4a4a4a"/><ellipse cx="544.4" cy="266.3" rx="1.45" ry="0.8" fill="#1a1a1a"/><ellipse cx="587.2" cy="268.6" rx="1.45" ry="0.8" fill="#1a1a1a"/><ellipse cx="588.5" cy="271.2" rx="1.45" ry="0.8" fill="#1a1a1a"/><ellipse cx="575.5" cy="270.6" rx="1.15" ry="0.65" fill="#4a4a4a"/><ellipse cx="582.0" cy="270.6" rx="1.15" ry="0.65" fill="#4a4a4a"/><ellipse cx="558.0" cy="270.6" rx="1.45" ry="0.8" fill="#1a1a1a"/><ellipse cx="536.0" cy="271.2" rx="1.45" ry="0.8" fill="#1a1a1a"/><ellipse cx="547.0" cy="269.7" rx="1.15" ry="0.65" fill="#4a4a4a"/><ellipse cx="553.5" cy="271.9" rx="1.15" ry="0.65" fill="#4a4a4a"/><ellipse cx="550.2" cy="274.8" rx="1.45" ry="0.8" fill="#1a1a1a"/><ellipse cx="536.0" cy="273.8" rx="1.45" ry="0.8" fill="#1a1a1a"/><ellipse cx="556.7" cy="275.1" rx="1.45" ry="0.8" fill="#1a1a1a"/><ellipse cx="563.8" cy="276.1" rx="1.45" ry="0.8" fill="#1a1a1a"/><ellipse cx="570.3" cy="277.4" rx="1.45" ry="0.8" fill="#1a1a1a"/><ellipse cx="572.3" cy="276.1" rx="1.45" ry="0.8" fill="#1a1a1a"/><ellipse cx="582.0" cy="275.8" rx="1.45" ry="0.8" fill="#1a1a1a"/><ellipse cx="583.3" cy="277.4" rx="1.15" ry="0.65" fill="#4a4a4a"/><ellipse cx="594.9" cy="279.3" rx="1.45" ry="0.8" fill="#1a1a1a"/><ellipse cx="529.5" cy="278.3" rx="1.45" ry="0.8" fill="#1a1a1a"/><ellipse cx="536.6" cy="279.0" rx="1.15" ry="0.65" fill="#4a4a4a"/><ellipse cx="548.3" cy="278.0" rx="1.45" ry="0.8" fill="#1a1a1a"/><ellipse cx="561.9" cy="279.6" rx="1.15" ry="0.65" fill="#4a4a4a"/><ellipse cx="556.1" cy="281.8" rx="1.45" ry="0.8" fill="#1a1a1a"/><ellipse cx="569.0" cy="281.6" rx="1.15" ry="0.65" fill="#4a4a4a"/><ellipse cx="578.1" cy="280.9" rx="1.15" ry="0.65" fill="#4a4a4a"/><ellipse cx="583.3" cy="280.9" rx="1.45" ry="0.8" fill="#1a1a1a"/><ellipse cx="587.8" cy="281.6" rx="1.45" ry="0.8" fill="#1a1a1a"/><ellipse cx="591.1" cy="282.6" rx="1.45" ry="0.8" fill="#1a1a1a"/><ellipse cx="531.4" cy="282.9" rx="1.45" ry="0.8" fill="#1a1a1a"/><ellipse cx="537.3" cy="283.5" rx="1.45" ry="0.8" fill="#1a1a1a"/><ellipse cx="542.5" cy="282.2" rx="1.45" ry="0.8" fill="#1a1a1a"/><ellipse cx="541.2" cy="280.9" rx="1.45" ry="0.8" fill="#1a1a1a"/><ellipse cx="550.2" cy="285.2" rx="1.45" ry="0.8" fill="#1a1a1a"/><ellipse cx="560.0" cy="285.2" rx="1.15" ry="0.65" fill="#4a4a4a"/><ellipse cx="564.5" cy="282.9" rx="1.15" ry="0.65" fill="#4a4a4a"/><ellipse cx="579.4" cy="286.8" rx="1.15" ry="0.65" fill="#4a4a4a"/><ellipse cx="582.6" cy="283.5" rx="1.45" ry="0.8" fill="#1a1a1a"/><ellipse cx="589.8" cy="286.1" rx="1.45" ry="0.8" fill="#1a1a1a"/><ellipse cx="530.1" cy="285.7" rx="1.45" ry="0.8" fill="#1a1a1a"/><ellipse cx="536.6" cy="288.1" rx="1.45" ry="0.8" fill="#1a1a1a"/><ellipse cx="532.1" cy="288.7" rx="1.15" ry="0.65" fill="#4a4a4a"/><ellipse cx="547.0" cy="287.0" rx="1.15" ry="0.65" fill="#4a4a4a"/><ellipse cx="526.9" cy="293.2" rx="1.45" ry="0.8" fill="#1a1a1a"/><ellipse cx="531.4" cy="293.9" rx="1.45" ry="0.8" fill="#1a1a1a"/><ellipse cx="539.9" cy="292.0" rx="1.15" ry="0.65" fill="#4a4a4a"/><ellipse cx="549.6" cy="292.6" rx="1.45" ry="0.8" fill="#1a1a1a"/><ellipse cx="556.1" cy="293.9" rx="1.15" ry="0.65" fill="#4a4a4a"/><ellipse cx="571.6" cy="290.7" rx="1.15" ry="0.65" fill="#4a4a4a"/><ellipse cx="579.4" cy="291.7" rx="1.45" ry="0.8" fill="#1a1a1a"/><ellipse cx="583.3" cy="291.7" rx="1.45" ry="0.8" fill="#1a1a1a"/><ellipse cx="592.4" cy="290.0" rx="1.15" ry="0.65" fill="#4a4a4a"/><ellipse cx="594.9" cy="293.9" rx="1.45" ry="0.8" fill="#1a1a1a"/><ellipse cx="592.4" cy="297.1" rx="1.45" ry="0.8" fill="#1a1a1a"/><ellipse cx="542.5" cy="296.5" rx="1.45" ry="0.8" fill="#1a1a1a"/><ellipse cx="552.8" cy="295.8" rx="1.15" ry="0.65" fill="#4a4a4a"/><ellipse cx="539.9" cy="299.7" rx="1.45" ry="0.8" fill="#1a1a1a"/><ellipse cx="550.9" cy="299.7" rx="1.15" ry="0.65" fill="#4a4a4a"/><ellipse cx="557.4" cy="298.4" rx="1.15" ry="0.65" fill="#4a4a4a"/><ellipse cx="567.7" cy="297.1" rx="1.15" ry="0.65" fill="#4a4a4a"/><ellipse cx="575.5" cy="301.0" rx="1.45" ry="0.8" fill="#1a1a1a"/><ellipse cx="582.6" cy="300.4" rx="1.15" ry="0.65" fill="#4a4a4a"/><ellipse cx="523.0" cy="303.4" rx="1.45" ry="0.8" fill="#1a1a1a"/><ellipse cx="528.2" cy="301.0" rx="1.15" ry="0.65" fill="#4a4a4a"/><ellipse cx="536.0" cy="303.4" rx="1.15" ry="0.65" fill="#4a4a4a"/><ellipse cx="542.5" cy="303.6" rx="1.15" ry="0.65" fill="#4a4a4a"/><ellipse cx="548.9" cy="303.9" rx="1.45" ry="0.8" fill="#1a1a1a"/><ellipse cx="556.1" cy="303.0" rx="1.15" ry="0.65" fill="#4a4a4a"/><ellipse cx="562.5" cy="303.6" rx="1.15" ry="0.65" fill="#4a4a4a"/><ellipse cx="571.6" cy="303.9" rx="1.45" ry="0.8" fill="#1a1a1a"/><ellipse cx="579.4" cy="304.3" rx="1.45" ry="0.8" fill="#1a1a1a"/><ellipse cx="588.5" cy="304.9" rx="1.15" ry="0.65" fill="#4a4a4a"/><ellipse cx="594.9" cy="304.3" rx="1.45" ry="0.8" fill="#1a1a1a"/><ellipse cx="519.8" cy="306.2" rx="1.15" ry="0.65" fill="#4a4a4a"/><ellipse cx="523.7" cy="308.8" rx="1.45" ry="0.8" fill="#1a1a1a"/><ellipse cx="528.2" cy="307.2" rx="1.45" ry="0.8" fill="#1a1a1a"/><ellipse cx="542.5" cy="307.5" rx="1.45" ry="0.8" fill="#1a1a1a"/><ellipse cx="550.9" cy="306.9" rx="1.15" ry="0.65" fill="#4a4a4a"/><ellipse cx="558.7" cy="307.2" rx="1.15" ry="0.65" fill="#4a4a4a"/><ellipse cx="565.1" cy="306.9" rx="1.15" ry="0.65" fill="#4a4a4a"/><ellipse cx="575.5" cy="306.9" rx="1.45" ry="0.8" fill="#1a1a1a"/><ellipse cx="584.6" cy="308.8" rx="1.15" ry="0.65" fill="#4a4a4a"/><ellipse cx="519.8" cy="328.3" rx="1.45" ry="0.8" fill="#1a1a1a"/><ellipse cx="521.1" cy="332.8" rx="1.45" ry="0.8" fill="#1a1a1a"/><ellipse cx="527.6" cy="334.1" rx="1.45" ry="0.8" fill="#1a1a1a"/><ellipse cx="532.1" cy="332.2" rx="1.45" ry="0.8" fill="#1a1a1a"/><ellipse cx="536.6" cy="329.0" rx="1.15" ry="0.65" fill="#4a4a4a"/><ellipse cx="552.2" cy="327.4" rx="1.15" ry="0.65" fill="#4a4a4a"/><ellipse cx="571.6" cy="325.7" rx="1.45" ry="0.8" fill="#1a1a1a"/><ellipse cx="572.9" cy="330.9" rx="1.45" ry="0.8" fill="#1a1a1a"/><ellipse cx="578.7" cy="331.6" rx="1.45" ry="0.8" fill="#1a1a1a"/><ellipse cx="584.6" cy="329.0" rx="1.45" ry="0.8" fill="#1a1a1a"/><ellipse cx="589.8" cy="334.1" rx="1.15" ry="0.65" fill="#4a4a4a"/><ellipse cx="578.7" cy="336.1" rx="1.45" ry="0.8" fill="#1a1a1a"/><ellipse cx="526.3" cy="338.3" rx="1.45" ry="0.8" fill="#1a1a1a"/><ellipse cx="537.9" cy="336.5" rx="1.15" ry="0.65" fill="#4a4a4a"/><ellipse cx="530.1" cy="341.9" rx="1.15" ry="0.65" fill="#4a4a4a"/><ellipse cx="539.9" cy="342.6" rx="1.45" ry="0.8" fill="#1a1a1a"/><ellipse cx="535.3" cy="343.9" rx="1.15" ry="0.65" fill="#4a4a4a"/><ellipse cx="532.7" cy="346.5" rx="1.45" ry="0.8" fill="#1a1a1a"/><ellipse cx="538.6" cy="347.1" rx="1.45" ry="0.8" fill="#1a1a1a"/><ellipse cx="543.8" cy="346.1" rx="1.15" ry="0.65" fill="#4a4a4a"/><ellipse cx="529.5" cy="350.3" rx="1.45" ry="0.8" fill="#1a1a1a"/><ellipse cx="538.6" cy="353.6" rx="1.45" ry="0.8" fill="#1a1a1a"/><ellipse cx="543.1" cy="353.6" rx="1.15" ry="0.65" fill="#4a4a4a"/><ellipse cx="547.0" cy="351.0" rx="1.45" ry="0.8" fill="#1a1a1a"/><ellipse cx="550.9" cy="350.0" rx="1.45" ry="0.8" fill="#1a1a1a"/><ellipse cx="554.1" cy="348.1" rx="1.45" ry="0.8" fill="#1a1a1a"/><ellipse cx="547.0" cy="354.2" rx="1.15" ry="0.65" fill="#4a4a4a"/><ellipse cx="557.4" cy="343.2" rx="1.15" ry="0.65" fill="#4a4a4a"/><ellipse cx="563.8" cy="347.1" rx="1.45" ry="0.8" fill="#1a1a1a"/><ellipse cx="569.0" cy="340.4" rx="1.45" ry="0.8" fill="#1a1a1a"/><ellipse cx="570.3" cy="343.2" rx="1.45" ry="0.8" fill="#1a1a1a"/><ellipse cx="582.0" cy="347.1" rx="1.45" ry="0.8" fill="#1a1a1a"/><ellipse cx="585.2" cy="343.9" rx="1.45" ry="0.8" fill="#1a1a1a"/><ellipse cx="591.7" cy="340.4" rx="1.45" ry="0.8" fill="#1a1a1a"/><ellipse cx="594.9" cy="343.2" rx="1.15" ry="0.65" fill="#4a4a4a"/><ellipse cx="589.8" cy="347.1" rx="1.15" ry="0.65" fill="#4a4a4a"/><ellipse cx="564.5" cy="349.7" rx="1.45" ry="0.8" fill="#1a1a1a"/><ellipse cx="565.1" cy="352.9" rx="1.45" ry="0.8" fill="#1a1a1a"/><ellipse cx="569.7" cy="353.6" rx="1.45" ry="0.8" fill="#1a1a1a"/><ellipse cx="572.3" cy="354.2" rx="1.45" ry="0.8" fill="#1a1a1a"/><ellipse cx="576.8" cy="351.6" rx="1.45" ry="0.8" fill="#1a1a1a"/><ellipse cx="560.0" cy="352.9" rx="1.15" ry="0.65" fill="#4a4a4a"/><ellipse cx="553.5" cy="352.9" rx="1.15" ry="0.65" fill="#4a4a4a"/><ellipse cx="532.1" cy="357.2" rx="1.45" ry="0.8" fill="#1a1a1a"/><ellipse cx="541.8" cy="357.2" rx="1.15" ry="0.65" fill="#4a4a4a"/><ellipse cx="564.5" cy="355.5" rx="1.45" ry="0.8" fill="#1a1a1a"/><ellipse cx="571.0" cy="358.1" rx="1.45" ry="0.8" fill="#1a1a1a"/><ellipse cx="582.0" cy="356.2" rx="1.15" ry="0.65" fill="#4a4a4a"/><ellipse cx="585.2" cy="354.6" rx="1.45" ry="0.8" fill="#1a1a1a"/><ellipse cx="591.1" cy="351.6" rx="1.45" ry="0.8" fill="#1a1a1a"/><ellipse cx="593.6" cy="354.6" rx="1.15" ry="0.65" fill="#4a4a4a"/><ellipse cx="561.2" cy="358.8" rx="1.15" ry="0.65" fill="#4a4a4a"/><ellipse cx="554.8" cy="362.4" rx="1.15" ry="0.65" fill="#4a4a4a"/><ellipse cx="561.9" cy="363.7" rx="1.45" ry="0.8" fill="#1a1a1a"/><ellipse cx="565.1" cy="363.3" rx="1.45" ry="0.8" fill="#1a1a1a"/><ellipse cx="572.9" cy="361.4" rx="1.15" ry="0.65" fill="#4a4a4a"/><ellipse cx="583.9" cy="362.0" rx="1.45" ry="0.8" fill="#1a1a1a"/><ellipse cx="576.8" cy="365.9" rx="1.45" ry="0.8" fill="#1a1a1a"/><ellipse cx="587.2" cy="365.2" rx="1.15" ry="0.65" fill="#4a4a4a"/><ellipse cx="574.2" cy="369.1" rx="1.45" ry="0.8" fill="#1a1a1a"/><ellipse cx="583.3" cy="369.1" rx="1.15" ry="0.65" fill="#4a4a4a"/><ellipse cx="592.4" cy="368.5" rx="1.15" ry="0.65" fill="#4a4a4a"/><ellipse cx="589.8" cy="371.1" rx="1.15" ry="0.65" fill="#4a4a4a"/><ellipse cx="557.4" cy="373.0" rx="1.45" ry="0.8" fill="#1a1a1a"/><ellipse cx="564.5" cy="372.4" rx="1.15" ry="0.65" fill="#4a4a4a"/><ellipse cx="582.6" cy="373.0" rx="1.45" ry="0.8" fill="#1a1a1a"/><ellipse cx="554.1" cy="375.6" rx="1.15" ry="0.65" fill="#4a4a4a"/><ellipse cx="561.9" cy="376.3" rx="1.45" ry="0.8" fill="#1a1a1a"/><ellipse cx="557.4" cy="378.9" rx="1.45" ry="0.8" fill="#1a1a1a"/><ellipse cx="566.4" cy="378.2" rx="1.15" ry="0.65" fill="#4a4a4a"/><ellipse cx="570.3" cy="376.9" rx="1.15" ry="0.65" fill="#4a4a4a"/><ellipse cx="576.8" cy="376.7" rx="1.45" ry="0.8" fill="#1a1a1a"/><ellipse cx="585.2" cy="376.3" rx="1.15" ry="0.65" fill="#4a4a4a"/><ellipse cx="592.4" cy="374.3" rx="1.15" ry="0.65" fill="#4a4a4a"/>
<circle cx="586" cy="317" r="71" fill="none" stroke="#000" stroke-width="1.6"/>
<line x1="598.3" y1="246" x2="598.3" y2="388" stroke="#000" stroke-width="1.4"/>
<text x="611.5" y="299.3" font-family="Liberation Sans, sans-serif" font-size="16" textLength="32.5" lengthAdjust="spacing" fill="#111">3x B</text>
<g><g transform="translate(517,317.5)" fill="#fff" stroke="#555" stroke-width="0.9"><path d="M8.5 -5.7 L81.5 -5.7 L81.5 5.7 L8.5 5.7 L1.5 2.8 L0.3 0 L1.5 -2.7 Z" stroke="none"/><path d="M8.5 -5.7 L81.5 -5.7 M8.5 5.7 L81.5 5.7" fill="none" stroke="#666" stroke-width="1.1"/><path d="M8.5 -5.7 L1.5 -2.7 L0.3 0 L1.5 2.8 L8.5 5.7" fill="none" stroke="#555"/><path d="M81.0 -7 Q85.5 -7 85.5 -3 L85.5 3 Q85.5 7 81.0 7 M81.0 -6 Q83.7 -5 83.7 -2 L83.7 2 Q83.7 5 81.0 6" fill="none" stroke="#444" stroke-width="1"/><path d="M8.5 -5.7 L8.5 5.7" fill="none" stroke="#333" stroke-width="1"/><path d="M9.0 -4.2 L15.5 -4.2 M10.5 0.63 L10.5 3.7800000000000002 M10.5 0.63 L14.5 0.63" fill="none" stroke="#555" stroke-width="0.8"/><path d="M16.0 -5.7 L16.0 5.7" fill="none" stroke="#333" stroke-width="1"/><path d="M16.5 4.2 L23.0 4.2 M18.0 -0.63 L18.0 -3.7800000000000002 M18.0 -0.63 L22.0 -0.63" fill="none" stroke="#555" stroke-width="0.8"/><path d="M23.5 -5.7 L23.5 5.7" fill="none" stroke="#333" stroke-width="1"/><path d="M24.0 -4.2 L30.5 -4.2 M25.5 0.63 L25.5 3.7800000000000002 M25.5 0.63 L29.5 0.63" fill="none" stroke="#555" stroke-width="0.8"/><path d="M31.0 -5.7 L31.0 5.7" fill="none" stroke="#333" stroke-width="1"/><path d="M31.5 4.2 L38.0 4.2 M33.0 -0.63 L33.0 -3.7800000000000002 M33.0 -0.63 L37.0 -0.63" fill="none" stroke="#555" stroke-width="0.8"/><path d="M33 -0.7 L51.5 -0.7 Q52.5 0 51.5 0.7 L33 0.7" fill="none" stroke="#555" stroke-width="0.8"/><path d="M38.5 -4.8 L46.5 -8.3 L49.6 -7.6 L50 -5.2 L39.2 -3.6 Z M38.5 4.8 L46.5 8.3 L49.6 7.6 L50 5.2 L39.2 3.6 Z" stroke="#444"/><circle cx="8.5" cy="5.7" r="0.8" fill="#222" stroke="none"/></g></g>
<ellipse cx="72.2" cy="484.7" rx="1.3" ry="1.1" fill="#1a1a1a"/><ellipse cx="77.9" cy="485.7" rx="1.3" ry="1.1" fill="#1a1a1a"/><ellipse cx="77.9" cy="492.0" rx="1.3" ry="1.1" fill="#1a1a1a"/><ellipse cx="68.2" cy="498.4" rx="1.3" ry="1.1" fill="#1a1a1a"/><ellipse cx="69.4" cy="502.4" rx="1.3" ry="1.1" fill="#1a1a1a"/><ellipse cx="62.2" cy="501.4" rx="0.95" ry="0.8" fill="#4a4a4a"/><ellipse cx="56.8" cy="502.0" rx="1.3" ry="1.1" fill="#1a1a1a"/><ellipse cx="38.6" cy="501.2" rx="1.3" ry="1.1" fill="#1a1a1a"/><ellipse cx="34.4" cy="503.2" rx="0.95" ry="0.8" fill="#4a4a4a"/><ellipse cx="31.4" cy="506.2" rx="1.3" ry="1.1" fill="#1a1a1a"/><ellipse cx="41.7" cy="505.6" rx="0.95" ry="0.8" fill="#4a4a4a"/><ellipse cx="37.4" cy="508.0" rx="1.3" ry="1.1" fill="#1a1a1a"/><ellipse cx="29.0" cy="511.1" rx="1.3" ry="1.1" fill="#1a1a1a"/><ellipse cx="28.4" cy="514.1" rx="0.95" ry="0.8" fill="#4a4a4a"/><ellipse cx="44.7" cy="508.6" rx="0.95" ry="0.8" fill="#4a4a4a"/><ellipse cx="52.5" cy="509.2" rx="1.3" ry="1.1" fill="#1a1a1a"/><ellipse cx="49.5" cy="511.7" rx="1.3" ry="1.1" fill="#1a1a1a"/><ellipse cx="45.9" cy="511.1" rx="0.95" ry="0.8" fill="#4a4a4a"/><ellipse cx="62.8" cy="508.6" rx="1.3" ry="1.1" fill="#1a1a1a"/><ellipse cx="64.0" cy="511.7" rx="1.3" ry="1.1" fill="#1a1a1a"/><ellipse cx="70.0" cy="510.5" rx="0.95" ry="0.8" fill="#4a4a4a"/><ellipse cx="75.5" cy="514.1" rx="1.3" ry="1.1" fill="#1a1a1a"/><ellipse cx="58.6" cy="515.9" rx="0.95" ry="0.8" fill="#4a4a4a"/><ellipse cx="64.0" cy="516.1" rx="1.3" ry="1.1" fill="#1a1a1a"/><ellipse cx="68.8" cy="516.5" rx="1.3" ry="1.1" fill="#1a1a1a"/><ellipse cx="71.3" cy="517.7" rx="1.3" ry="1.1" fill="#1a1a1a"/><ellipse cx="76.1" cy="518.3" rx="0.95" ry="0.8" fill="#4a4a4a"/><ellipse cx="22.9" cy="517.1" rx="1.3" ry="1.1" fill="#1a1a1a"/><ellipse cx="25.4" cy="518.9" rx="0.95" ry="0.8" fill="#4a4a4a"/><ellipse cx="36.8" cy="517.3" rx="1.3" ry="1.1" fill="#1a1a1a"/><ellipse cx="42.3" cy="516.5" rx="0.95" ry="0.8" fill="#4a4a4a"/><ellipse cx="43.5" cy="513.7" rx="0.95" ry="0.8" fill="#4a4a4a"/><ellipse cx="50.7" cy="516.5" rx="0.95" ry="0.8" fill="#4a4a4a"/><ellipse cx="18.1" cy="519.5" rx="1.3" ry="1.1" fill="#1a1a1a"/><ellipse cx="31.4" cy="521.9" rx="1.3" ry="1.1" fill="#1a1a1a"/><ellipse cx="47.1" cy="518.9" rx="0.95" ry="0.8" fill="#4a4a4a"/><ellipse cx="63.4" cy="519.5" rx="1.3" ry="1.1" fill="#1a1a1a"/><ellipse cx="70.0" cy="523.1" rx="1.3" ry="1.1" fill="#1a1a1a"/><ellipse cx="59.8" cy="524.3" rx="0.95" ry="0.8" fill="#4a4a4a"/><ellipse cx="65.8" cy="524.3" rx="0.95" ry="0.8" fill="#4a4a4a"/><ellipse cx="17.5" cy="526.5" rx="1.3" ry="1.1" fill="#1a1a1a"/><ellipse cx="13.9" cy="526.8" rx="0.95" ry="0.8" fill="#4a4a4a"/><ellipse cx="29.0" cy="524.3" rx="0.95" ry="0.8" fill="#4a4a4a"/><ellipse cx="39.9" cy="521.9" rx="0.95" ry="0.8" fill="#4a4a4a"/><ellipse cx="53.7" cy="529.8" rx="0.95" ry="0.8" fill="#4a4a4a"/><ellipse cx="60.4" cy="530.4" rx="1.3" ry="1.1" fill="#1a1a1a"/><ellipse cx="64.0" cy="531.0" rx="1.3" ry="1.1" fill="#1a1a1a"/><ellipse cx="73.1" cy="528.6" rx="0.95" ry="0.8" fill="#4a4a4a"/><ellipse cx="30.8" cy="532.2" rx="1.3" ry="1.1" fill="#1a1a1a"/><ellipse cx="21.1" cy="531.6" rx="0.95" ry="0.8" fill="#4a4a4a"/><ellipse cx="11.5" cy="534.0" rx="1.3" ry="1.1" fill="#1a1a1a"/><ellipse cx="25.4" cy="535.2" rx="0.95" ry="0.8" fill="#4a4a4a"/><ellipse cx="76.1" cy="534.6" rx="1.3" ry="1.1" fill="#1a1a1a"/><ellipse cx="23.5" cy="537.7" rx="1.3" ry="1.1" fill="#1a1a1a"/><ellipse cx="33.8" cy="536.8" rx="0.95" ry="0.8" fill="#4a4a4a"/><ellipse cx="36.2" cy="539.8" rx="0.95" ry="0.8" fill="#4a4a4a"/><ellipse cx="38.6" cy="541.6" rx="0.95" ry="0.8" fill="#4a4a4a"/><ellipse cx="21.1" cy="542.5" rx="1.3" ry="1.1" fill="#1a1a1a"/><ellipse cx="29.6" cy="542.8" rx="0.95" ry="0.8" fill="#4a4a4a"/><ellipse cx="10.9" cy="546.8" rx="0.95" ry="0.8" fill="#4a4a4a"/><ellipse cx="29.0" cy="548.9" rx="1.3" ry="1.1" fill="#1a1a1a"/><ellipse cx="34.4" cy="548.3" rx="0.95" ry="0.8" fill="#4a4a4a"/><ellipse cx="38.6" cy="550.1" rx="0.95" ry="0.8" fill="#4a4a4a"/><ellipse cx="42.9" cy="547.7" rx="0.95" ry="0.8" fill="#4a4a4a"/><ellipse cx="9.1" cy="553.1" rx="1.3" ry="1.1" fill="#1a1a1a"/><ellipse cx="12.7" cy="554.9" rx="0.95" ry="0.8" fill="#4a4a4a"/><ellipse cx="16.9" cy="554.3" rx="0.95" ry="0.8" fill="#4a4a4a"/><ellipse cx="22.9" cy="553.1" rx="1.3" ry="1.1" fill="#1a1a1a"/><ellipse cx="32.0" cy="553.1" rx="0.95" ry="0.8" fill="#4a4a4a"/><ellipse cx="56.2" cy="544.7" rx="1.3" ry="1.1" fill="#1a1a1a"/><ellipse cx="62.8" cy="543.7" rx="0.95" ry="0.8" fill="#4a4a4a"/><ellipse cx="53.1" cy="548.3" rx="0.95" ry="0.8" fill="#4a4a4a"/><ellipse cx="61.0" cy="549.7" rx="1.3" ry="1.1" fill="#1a1a1a"/><ellipse cx="65.2" cy="551.9" rx="0.95" ry="0.8" fill="#4a4a4a"/><ellipse cx="69.4" cy="550.9" rx="0.95" ry="0.8" fill="#4a4a4a"/><ellipse cx="75.5" cy="549.7" rx="1.3" ry="1.1" fill="#1a1a1a"/><ellipse cx="73.7" cy="539.2" rx="1.3" ry="1.1" fill="#1a1a1a"/><ellipse cx="56.2" cy="552.9" rx="1.3" ry="1.1" fill="#1a1a1a"/><ellipse cx="51.9" cy="555.8" rx="0.95" ry="0.8" fill="#4a4a4a"/><ellipse cx="58.0" cy="557.3" rx="0.95" ry="0.8" fill="#4a4a4a"/><ellipse cx="6.0" cy="560.4" rx="0.95" ry="0.8" fill="#4a4a4a"/><ellipse cx="39.2" cy="580.9" rx="1.3" ry="1.1" fill="#1a1a1a"/><ellipse cx="42.9" cy="580.9" rx="1.3" ry="1.1" fill="#1a1a1a"/><ellipse cx="33.2" cy="582.7" rx="0.95" ry="0.8" fill="#4a4a4a"/><ellipse cx="52.5" cy="579.9" rx="1.3" ry="1.1" fill="#1a1a1a"/><ellipse cx="18.1" cy="585.1" rx="0.95" ry="0.8" fill="#4a4a4a"/><ellipse cx="12.7" cy="588.1" rx="1.3" ry="1.1" fill="#1a1a1a"/><ellipse cx="15.1" cy="590.6" rx="1.3" ry="1.1" fill="#1a1a1a"/><ellipse cx="7.8" cy="591.8" rx="1.3" ry="1.1" fill="#1a1a1a"/><ellipse cx="53.7" cy="587.5" rx="1.3" ry="1.1" fill="#1a1a1a"/><ellipse cx="59.8" cy="588.1" rx="1.3" ry="1.1" fill="#1a1a1a"/><ellipse cx="65.2" cy="585.5" rx="1.3" ry="1.1" fill="#1a1a1a"/><ellipse cx="71.3" cy="592.4" rx="0.95" ry="0.8" fill="#4a4a4a"/><ellipse cx="59.8" cy="594.8" rx="1.3" ry="1.1" fill="#1a1a1a"/><ellipse cx="18.7" cy="595.4" rx="0.95" ry="0.8" fill="#4a4a4a"/><ellipse cx="62.8" cy="600.2" rx="0.95" ry="0.8" fill="#4a4a4a"/><ellipse cx="50.1" cy="600.8" rx="1.3" ry="1.1" fill="#1a1a1a"/><ellipse cx="72.5" cy="600.8" rx="1.3" ry="1.1" fill="#1a1a1a"/><ellipse cx="21.1" cy="603.6" rx="1.3" ry="1.1" fill="#1a1a1a"/><ellipse cx="15.7" cy="606.0" rx="0.95" ry="0.8" fill="#4a4a4a"/><ellipse cx="38.6" cy="604.8" rx="0.95" ry="0.8" fill="#4a4a4a"/><ellipse cx="44.1" cy="603.9" rx="0.95" ry="0.8" fill="#4a4a4a"/><ellipse cx="50.1" cy="601.2" rx="1.3" ry="1.1" fill="#1a1a1a"/><ellipse cx="51.3" cy="605.1" rx="1.3" ry="1.1" fill="#1a1a1a"/><ellipse cx="63.4" cy="600.6" rx="0.95" ry="0.8" fill="#4a4a4a"/><ellipse cx="73.1" cy="601.0" rx="1.3" ry="1.1" fill="#1a1a1a"/><ellipse cx="65.8" cy="606.0" rx="1.3" ry="1.1" fill="#1a1a1a"/><ellipse cx="76.1" cy="605.1" rx="0.95" ry="0.8" fill="#4a4a4a"/><ellipse cx="19.3" cy="610.6" rx="1.3" ry="1.1" fill="#1a1a1a"/><ellipse cx="24.2" cy="609.1" rx="0.95" ry="0.8" fill="#4a4a4a"/><ellipse cx="27.2" cy="612.1" rx="0.95" ry="0.8" fill="#4a4a4a"/><ellipse cx="35.0" cy="612.1" rx="1.3" ry="1.1" fill="#1a1a1a"/><ellipse cx="32.0" cy="614.3" rx="1.3" ry="1.1" fill="#1a1a1a"/><ellipse cx="44.7" cy="611.1" rx="1.3" ry="1.1" fill="#1a1a1a"/><ellipse cx="45.9" cy="614.3" rx="1.3" ry="1.1" fill="#1a1a1a"/><ellipse cx="52.5" cy="612.7" rx="0.95" ry="0.8" fill="#4a4a4a"/><ellipse cx="63.4" cy="610.6" rx="1.3" ry="1.1" fill="#1a1a1a"/><ellipse cx="72.5" cy="610.9" rx="0.95" ry="0.8" fill="#4a4a4a"/><ellipse cx="19.9" cy="614.5" rx="0.95" ry="0.8" fill="#4a4a4a"/><ellipse cx="26.0" cy="616.3" rx="1.3" ry="1.1" fill="#1a1a1a"/><ellipse cx="24.2" cy="619.9" rx="0.95" ry="0.8" fill="#4a4a4a"/><ellipse cx="29.0" cy="621.7" rx="0.95" ry="0.8" fill="#4a4a4a"/><ellipse cx="33.2" cy="619.1" rx="0.95" ry="0.8" fill="#4a4a4a"/><ellipse cx="41.1" cy="618.7" rx="0.95" ry="0.8" fill="#4a4a4a"/><ellipse cx="45.9" cy="618.7" rx="1.3" ry="1.1" fill="#1a1a1a"/><ellipse cx="50.7" cy="619.3" rx="1.3" ry="1.1" fill="#1a1a1a"/><ellipse cx="53.1" cy="619.9" rx="1.3" ry="1.1" fill="#1a1a1a"/><ellipse cx="57.4" cy="616.9" rx="1.3" ry="1.1" fill="#1a1a1a"/><ellipse cx="71.9" cy="616.9" rx="1.3" ry="1.1" fill="#1a1a1a"/><ellipse cx="45.3" cy="622.3" rx="1.3" ry="1.1" fill="#1a1a1a"/><ellipse cx="54.9" cy="621.7" rx="0.95" ry="0.8" fill="#4a4a4a"/><ellipse cx="62.8" cy="623.5" rx="0.95" ry="0.8" fill="#4a4a4a"/><ellipse cx="65.8" cy="621.5" rx="1.3" ry="1.1" fill="#1a1a1a"/><ellipse cx="74.9" cy="621.7" rx="0.95" ry="0.8" fill="#4a4a4a"/><ellipse cx="51.9" cy="626.0" rx="1.3" ry="1.1" fill="#1a1a1a"/><ellipse cx="41.7" cy="627.2" rx="0.95" ry="0.8" fill="#4a4a4a"/><ellipse cx="47.1" cy="627.2" rx="0.95" ry="0.8" fill="#4a4a4a"/><ellipse cx="55.6" cy="631.2" rx="0.95" ry="0.8" fill="#4a4a4a"/><ellipse cx="65.2" cy="632.4" rx="1.3" ry="1.1" fill="#1a1a1a"/><ellipse cx="35.6" cy="632.6" rx="0.95" ry="0.8" fill="#4a4a4a"/><ellipse cx="42.3" cy="633.8" rx="1.3" ry="1.1" fill="#1a1a1a"/><ellipse cx="46.5" cy="633.8" rx="1.3" ry="1.1" fill="#1a1a1a"/><ellipse cx="58.0" cy="637.4" rx="1.3" ry="1.1" fill="#1a1a1a"/><ellipse cx="68.2" cy="636.2" rx="0.95" ry="0.8" fill="#4a4a4a"/><ellipse cx="55.6" cy="642.0" rx="1.3" ry="1.1" fill="#1a1a1a"/><ellipse cx="64.6" cy="642.3" rx="0.95" ry="0.8" fill="#4a4a4a"/><ellipse cx="73.1" cy="641.1" rx="0.95" ry="0.8" fill="#4a4a4a"/><ellipse cx="71.3" cy="645.6" rx="0.95" ry="0.8" fill="#4a4a4a"/><ellipse cx="63.4" cy="648.3" rx="1.3" ry="1.1" fill="#1a1a1a"/><ellipse cx="73.1" cy="649.5" rx="0.95" ry="0.8" fill="#4a4a4a"/><ellipse cx="67.0" cy="653.1" rx="0.95" ry="0.8" fill="#4a4a4a"/>
<circle cx="97.6" cy="567.4" r="95.8" fill="none" stroke="#000" stroke-width="1.6"/>
<line x1="79.5" y1="472" x2="79.5" y2="663" stroke="#000" stroke-width="1.4"/>
<g clip-path="url(#c4)"><g transform="translate(-2,571.2)" fill="#fff" stroke="#555" stroke-width="0.9"><path d="M8.5 -5.7 L81.5 -5.7 L81.5 5.7 L8.5 5.7 L1.5 2.8 L0.3 0 L1.5 -2.7 Z" stroke="none"/><path d="M8.5 -5.7 L81.5 -5.7 M8.5 5.7 L81.5 5.7" fill="none" stroke="#666" stroke-width="1.1"/><path d="M8.5 -5.7 L1.5 -2.7 L0.3 0 L1.5 2.8 L8.5 5.7" fill="none" stroke="#555"/><path d="M81.0 -7 Q85.5 -7 85.5 -3 L85.5 3 Q85.5 7 81.0 7 M81.0 -6 Q83.7 -5 83.7 -2 L83.7 2 Q83.7 5 81.0 6" fill="none" stroke="#444" stroke-width="1"/><path d="M8.5 -5.7 L8.5 5.7" fill="none" stroke="#333" stroke-width="1"/><path d="M9.0 -4.2 L15.5 -4.2 M10.5 0.63 L10.5 3.7800000000000002 M10.5 0.63 L14.5 0.63" fill="none" stroke="#555" stroke-width="0.8"/><path d="M16.0 -5.7 L16.0 5.7" fill="none" stroke="#333" stroke-width="1"/><path d="M16.5 4.2 L23.0 4.2 M18.0 -0.63 L18.0 -3.7800000000000002 M18.0 -0.63 L22.0 -0.63" fill="none" stroke="#555" stroke-width="0.8"/><path d="M23.5 -5.7 L23.5 5.7" fill="none" stroke="#333" stroke-width="1"/><path d="M24.0 -4.2 L30.5 -4.2 M25.5 0.63 L25.5 3.7800000000000002 M25.5 0.63 L29.5 0.63" fill="none" stroke="#555" stroke-width="0.8"/><path d="M31.0 -5.7 L31.0 5.7" fill="none" stroke="#333" stroke-width="1"/><path d="M31.5 4.2 L38.0 4.2 M33.0 -0.63 L33.0 -3.7800000000000002 M33.0 -0.63 L37.0 -0.63" fill="none" stroke="#555" stroke-width="0.8"/><path d="M33 -0.7 L51.5 -0.7 Q52.5 0 51.5 0.7 L33 0.7" fill="none" stroke="#555" stroke-width="0.8"/><path d="M38.5 -4.8 L46.5 -8.3 L49.6 -7.6 L50 -5.2 L39.2 -3.6 Z M38.5 4.8 L46.5 8.3 L49.6 7.6 L50 5.2 L39.2 3.6 Z" stroke="#444"/><circle cx="8.5" cy="5.7" r="0.8" fill="#222" stroke="none"/></g></g>
<rect x="89.8" y="512.3" width="19.5" height="99.2" fill="#fff" stroke="#111" stroke-width="1.2"/>
<rect x="89.8" y="565.2" width="14.6" height="10.2" fill="#6e6e6e"/><rect x="104.4" y="562.8" width="5" height="15" rx="1" fill="#666"/>
<g transform="translate(0,0)"><path d="M109.3 538.3 Q125 535 152.4 521.1 L152.9 499.6 Q153.5 495.3 156.7 495.3 Q160.5 495.5 160.5 509.1 L160 528.3 Q160 533 156.7 533.6 L136.6 539.8 Q124 544 120 551 Q118.4 556 118.4 565 L118.4 597.9 Q119 601.7 123.2 601.7 Q138 603 147 599 M109.3 602.2 Q116 609 124.1 611.3 Q135 613 138.5 612.7 Q150 612 157.7 608.9" fill="none" stroke="#111" stroke-width="1.3"/><ellipse cx="150.6" cy="591.8" rx="4" ry="6.8" transform="rotate(25 150.6 591.8)" fill="#fff" stroke="#111" stroke-width="1.2"/><path d="M146.5 598.5 Q151 597.5 155.5 594" fill="none" stroke="#333" stroke-width="1"/><ellipse cx="160.1" cy="595.3" rx="4.8" ry="13.8" transform="rotate(4 160.1 595.3)" fill="#fff" stroke="#111" stroke-width="1.2"/><path d="M158.2 582 Q154.6 595 157.4 608.5" fill="none" stroke="#111" stroke-width="1.9"/></g>
<g fill="#fff" stroke="#444" stroke-width="0.7"><path d="M122.2 570.7 L127.5 567.9 L182 567.9 L182 573.6 L127.5 573.6 Z"/><line x1="128.0" y1="567.6" x2="128.8" y2="574" /><line x1="129.8" y1="567.6" x2="130.7" y2="574" /><line x1="131.7" y1="567.6" x2="132.5" y2="574" /><line x1="133.6" y1="567.6" x2="134.4" y2="574" /><line x1="135.4" y1="567.6" x2="136.2" y2="574" /><line x1="137.2" y1="567.6" x2="138.1" y2="574" /><line x1="139.1" y1="567.6" x2="139.9" y2="574" /><line x1="140.9" y1="567.6" x2="141.8" y2="574" /><line x1="142.8" y1="567.6" x2="143.6" y2="574" /><line x1="144.7" y1="567.6" x2="145.5" y2="574" /><line x1="146.5" y1="567.6" x2="147.3" y2="574" /><line x1="148.3" y1="567.6" x2="149.2" y2="574" /><line x1="150.2" y1="567.6" x2="151.0" y2="574" /><line x1="152.1" y1="567.6" x2="152.9" y2="574" /><line x1="153.9" y1="567.6" x2="154.7" y2="574" /><line x1="155.8" y1="567.6" x2="156.6" y2="574" /><line x1="157.6" y1="567.6" x2="158.4" y2="574" /><line x1="159.4" y1="567.6" x2="160.2" y2="574" /><line x1="161.3" y1="567.6" x2="162.1" y2="574" /><line x1="163.2" y1="567.6" x2="164.0" y2="574" /><line x1="165.0" y1="567.6" x2="165.8" y2="574" /><line x1="166.8" y1="567.6" x2="167.7" y2="574" /><line x1="168.7" y1="567.6" x2="169.5" y2="574" /><line x1="170.6" y1="567.6" x2="171.4" y2="574" /><line x1="172.4" y1="567.6" x2="173.2" y2="574" /><line x1="174.2" y1="567.6" x2="175.1" y2="574" /><line x1="176.1" y1="567.6" x2="176.9" y2="574" /><line x1="177.9" y1="567.6" x2="178.8" y2="574" /><line x1="179.8" y1="567.6" x2="180.6" y2="574" /><path d="M182 568 L186 564.2 Q188.6 564.5 188.6 570.5 Q188.6 576.5 186 576.6 L182 573.6" stroke-width="0.9"/></g>
<path d="M111.2 511.1 L123.43 487.95 A23.7 23.7 0 1 1 134.59 493.31 Z" fill="#fff" stroke="#555" stroke-width="0.9" stroke-linejoin="round"/>
<text x="129.2" y="475.4" font-family="Liberation Sans, sans-serif" font-size="9.6" font-weight="bold" fill="#111">1x A</text>
<path d="M176.5 574.7 L201.66 591.51 A24.2 24.2 0 1 1 192.63 599.07 Z" fill="#fff" stroke="#555" stroke-width="0.9" stroke-linejoin="round"/>
<text x="201.8" y="616.6" font-family="Liberation Sans, sans-serif" font-size="9.6" font-weight="bold" fill="#111">3x C</text>
<ellipse cx="319.0" cy="484.0" rx="0.95" ry="0.8" fill="#4a4a4a"/><ellipse cx="325.5" cy="482.3" rx="1.3" ry="1.1" fill="#1a1a1a"/><ellipse cx="329.1" cy="482.3" rx="1.3" ry="1.1" fill="#1a1a1a"/><ellipse cx="339.1" cy="481.7" rx="1.3" ry="1.1" fill="#1a1a1a"/><ellipse cx="340.4" cy="488.8" rx="1.3" ry="1.1" fill="#1a1a1a"/><ellipse cx="346.2" cy="475.2" rx="1.3" ry="1.1" fill="#1a1a1a"/><ellipse cx="346.2" cy="489.4" rx="0.95" ry="0.8" fill="#4a4a4a"/><ellipse cx="346.2" cy="495.3" rx="0.95" ry="0.8" fill="#4a4a4a"/><ellipse cx="304.8" cy="496.6" rx="0.95" ry="0.8" fill="#4a4a4a"/><ellipse cx="306.7" cy="504.0" rx="1.3" ry="1.1" fill="#1a1a1a"/><ellipse cx="296.3" cy="503.0" rx="0.95" ry="0.8" fill="#4a4a4a"/><ellipse cx="302.2" cy="505.6" rx="0.95" ry="0.8" fill="#4a4a4a"/><ellipse cx="324.9" cy="504.7" rx="1.3" ry="1.1" fill="#1a1a1a"/><ellipse cx="330.7" cy="504.0" rx="0.95" ry="0.8" fill="#4a4a4a"/><ellipse cx="336.5" cy="501.1" rx="1.3" ry="1.1" fill="#1a1a1a"/><ellipse cx="337.8" cy="505.0" rx="1.3" ry="1.1" fill="#1a1a1a"/><ellipse cx="299.6" cy="508.9" rx="1.3" ry="1.1" fill="#1a1a1a"/><ellipse cx="305.4" cy="510.2" rx="1.3" ry="1.1" fill="#1a1a1a"/><ellipse cx="296.3" cy="512.8" rx="1.3" ry="1.1" fill="#1a1a1a"/><ellipse cx="310.0" cy="508.2" rx="0.95" ry="0.8" fill="#4a4a4a"/><ellipse cx="313.8" cy="511.5" rx="0.95" ry="0.8" fill="#4a4a4a"/><ellipse cx="317.7" cy="513.4" rx="1.3" ry="1.1" fill="#1a1a1a"/><ellipse cx="321.0" cy="511.5" rx="1.3" ry="1.1" fill="#1a1a1a"/><ellipse cx="330.7" cy="510.8" rx="1.3" ry="1.1" fill="#1a1a1a"/><ellipse cx="332.0" cy="514.1" rx="1.3" ry="1.1" fill="#1a1a1a"/><ellipse cx="339.1" cy="512.1" rx="0.95" ry="0.8" fill="#4a4a4a"/><ellipse cx="343.6" cy="516.0" rx="1.3" ry="1.1" fill="#1a1a1a"/><ellipse cx="285.3" cy="516.0" rx="0.95" ry="0.8" fill="#4a4a4a"/><ellipse cx="295.7" cy="516.0" rx="0.95" ry="0.8" fill="#4a4a4a"/><ellipse cx="311.9" cy="516.0" rx="1.3" ry="1.1" fill="#1a1a1a"/><ellipse cx="326.8" cy="518.0" rx="0.95" ry="0.8" fill="#4a4a4a"/><ellipse cx="332.6" cy="518.0" rx="1.3" ry="1.1" fill="#1a1a1a"/><ellipse cx="337.2" cy="518.6" rx="1.3" ry="1.1" fill="#1a1a1a"/><ellipse cx="339.8" cy="519.2" rx="1.3" ry="1.1" fill="#1a1a1a"/><ellipse cx="289.9" cy="518.6" rx="1.3" ry="1.1" fill="#1a1a1a"/><ellipse cx="292.5" cy="519.9" rx="0.95" ry="0.8" fill="#4a4a4a"/><ellipse cx="284.0" cy="521.8" rx="1.3" ry="1.1" fill="#1a1a1a"/><ellipse cx="286.6" cy="523.1" rx="1.3" ry="1.1" fill="#1a1a1a"/><ellipse cx="304.8" cy="519.2" rx="1.3" ry="1.1" fill="#1a1a1a"/><ellipse cx="310.0" cy="518.6" rx="0.95" ry="0.8" fill="#4a4a4a"/><ellipse cx="315.1" cy="519.9" rx="0.95" ry="0.8" fill="#4a4a4a"/><ellipse cx="319.0" cy="518.6" rx="0.95" ry="0.8" fill="#4a4a4a"/><ellipse cx="299.6" cy="523.1" rx="1.3" ry="1.1" fill="#1a1a1a"/><ellipse cx="308.0" cy="523.1" rx="0.95" ry="0.8" fill="#4a4a4a"/><ellipse cx="332.0" cy="521.2" rx="1.3" ry="1.1" fill="#1a1a1a"/><ellipse cx="341.1" cy="521.2" rx="0.95" ry="0.8" fill="#4a4a4a"/><ellipse cx="285.3" cy="527.7" rx="1.3" ry="1.1" fill="#1a1a1a"/><ellipse cx="291.8" cy="526.4" rx="0.95" ry="0.8" fill="#4a4a4a"/><ellipse cx="327.4" cy="525.7" rx="0.95" ry="0.8" fill="#4a4a4a"/><ellipse cx="333.9" cy="525.7" rx="0.95" ry="0.8" fill="#4a4a4a"/><ellipse cx="338.5" cy="525.1" rx="1.3" ry="1.1" fill="#1a1a1a"/><ellipse cx="321.6" cy="530.3" rx="0.95" ry="0.8" fill="#4a4a4a"/><ellipse cx="328.7" cy="531.9" rx="1.3" ry="1.1" fill="#1a1a1a"/><ellipse cx="332.6" cy="532.2" rx="1.3" ry="1.1" fill="#1a1a1a"/><ellipse cx="342.4" cy="529.6" rx="0.95" ry="0.8" fill="#4a4a4a"/><ellipse cx="275.6" cy="534.2" rx="1.3" ry="1.1" fill="#1a1a1a"/><ellipse cx="279.5" cy="534.8" rx="1.3" ry="1.1" fill="#1a1a1a"/><ellipse cx="288.6" cy="532.9" rx="0.95" ry="0.8" fill="#4a4a4a"/><ellipse cx="298.3" cy="533.5" rx="1.3" ry="1.1" fill="#1a1a1a"/><ellipse cx="344.9" cy="534.8" rx="1.3" ry="1.1" fill="#1a1a1a"/><ellipse cx="276.3" cy="535.6" rx="1.3" ry="1.1" fill="#1a1a1a"/><ellipse cx="291.8" cy="538.2" rx="1.3" ry="1.1" fill="#1a1a1a"/><ellipse cx="300.9" cy="537.6" rx="0.95" ry="0.8" fill="#4a4a4a"/><ellipse cx="304.8" cy="540.8" rx="0.95" ry="0.8" fill="#4a4a4a"/><ellipse cx="289.2" cy="542.8" rx="1.3" ry="1.1" fill="#1a1a1a"/><ellipse cx="298.3" cy="542.8" rx="0.95" ry="0.8" fill="#4a4a4a"/><ellipse cx="306.7" cy="542.1" rx="0.95" ry="0.8" fill="#4a4a4a"/><ellipse cx="271.1" cy="548.0" rx="1.3" ry="1.1" fill="#1a1a1a"/><ellipse cx="278.2" cy="546.7" rx="0.95" ry="0.8" fill="#4a4a4a"/><ellipse cx="297.0" cy="548.0" rx="1.3" ry="1.1" fill="#1a1a1a"/><ellipse cx="302.2" cy="548.0" rx="0.95" ry="0.8" fill="#4a4a4a"/><ellipse cx="311.2" cy="548.0" rx="1.3" ry="1.1" fill="#1a1a1a"/><ellipse cx="306.7" cy="549.9" rx="0.95" ry="0.8" fill="#4a4a4a"/><ellipse cx="341.7" cy="539.5" rx="1.3" ry="1.1" fill="#1a1a1a"/><ellipse cx="324.2" cy="544.7" rx="1.3" ry="1.1" fill="#1a1a1a"/><ellipse cx="330.7" cy="543.4" rx="0.95" ry="0.8" fill="#4a4a4a"/><ellipse cx="321.6" cy="548.0" rx="0.95" ry="0.8" fill="#4a4a4a"/><ellipse cx="329.4" cy="549.5" rx="1.3" ry="1.1" fill="#1a1a1a"/><ellipse cx="338.5" cy="550.6" rx="0.95" ry="0.8" fill="#4a4a4a"/><ellipse cx="344.3" cy="549.3" rx="1.3" ry="1.1" fill="#1a1a1a"/><ellipse cx="324.2" cy="552.5" rx="1.3" ry="1.1" fill="#1a1a1a"/><ellipse cx="332.6" cy="551.8" rx="0.95" ry="0.8" fill="#4a4a4a"/><ellipse cx="320.3" cy="555.7" rx="0.95" ry="0.8" fill="#4a4a4a"/><ellipse cx="326.8" cy="556.4" rx="0.95" ry="0.8" fill="#4a4a4a"/><ellipse cx="271.7" cy="555.1" rx="1.3" ry="1.1" fill="#1a1a1a"/><ellipse cx="276.3" cy="553.1" rx="1.3" ry="1.1" fill="#1a1a1a"/><ellipse cx="280.8" cy="554.4" rx="0.95" ry="0.8" fill="#4a4a4a"/><ellipse cx="291.2" cy="552.5" rx="1.3" ry="1.1" fill="#1a1a1a"/><ellipse cx="300.2" cy="553.1" rx="0.95" ry="0.8" fill="#4a4a4a"/><ellipse cx="284.7" cy="554.4" rx="0.95" ry="0.8" fill="#4a4a4a"/><ellipse cx="286.0" cy="583.0" rx="0.95" ry="0.8" fill="#4a4a4a"/><ellipse cx="280.1" cy="585.5" rx="1.3" ry="1.1" fill="#1a1a1a"/><ellipse cx="282.7" cy="586.8" rx="1.3" ry="1.1" fill="#1a1a1a"/><ellipse cx="300.9" cy="580.4" rx="0.95" ry="0.8" fill="#4a4a4a"/><ellipse cx="322.9" cy="584.2" rx="1.3" ry="1.1" fill="#1a1a1a"/><ellipse cx="328.1" cy="585.5" rx="1.3" ry="1.1" fill="#1a1a1a"/><ellipse cx="333.9" cy="583.0" rx="1.3" ry="1.1" fill="#1a1a1a"/><ellipse cx="275.0" cy="588.1" rx="1.3" ry="1.1" fill="#1a1a1a"/><ellipse cx="278.8" cy="589.4" rx="0.95" ry="0.8" fill="#4a4a4a"/><ellipse cx="286.0" cy="592.0" rx="0.95" ry="0.8" fill="#4a4a4a"/><ellipse cx="328.7" cy="591.8" rx="1.3" ry="1.1" fill="#1a1a1a"/><ellipse cx="339.8" cy="589.4" rx="0.95" ry="0.8" fill="#4a4a4a"/><ellipse cx="275.6" cy="594.6" rx="1.3" ry="1.1" fill="#1a1a1a"/><ellipse cx="287.9" cy="599.8" rx="1.3" ry="1.1" fill="#1a1a1a"/><ellipse cx="319.0" cy="597.2" rx="1.3" ry="1.1" fill="#1a1a1a"/><ellipse cx="340.4" cy="596.6" rx="1.3" ry="1.1" fill="#1a1a1a"/><ellipse cx="334.6" cy="599.2" rx="0.95" ry="0.8" fill="#4a4a4a"/><ellipse cx="306.7" cy="600.4" rx="0.95" ry="0.8" fill="#4a4a4a"/><ellipse cx="278.2" cy="599.8" rx="0.95" ry="0.8" fill="#4a4a4a"/><ellipse cx="288.6" cy="600.6" rx="1.3" ry="1.1" fill="#1a1a1a"/><ellipse cx="306.7" cy="601.0" rx="0.95" ry="0.8" fill="#4a4a4a"/><ellipse cx="319.0" cy="601.3" rx="1.3" ry="1.1" fill="#1a1a1a"/><ellipse cx="334.6" cy="602.3" rx="1.3" ry="1.1" fill="#1a1a1a"/><ellipse cx="344.9" cy="601.3" rx="0.95" ry="0.8" fill="#4a4a4a"/><ellipse cx="281.4" cy="605.2" rx="1.3" ry="1.1" fill="#1a1a1a"/><ellipse cx="286.6" cy="606.2" rx="1.3" ry="1.1" fill="#1a1a1a"/><ellipse cx="291.8" cy="604.5" rx="0.95" ry="0.8" fill="#4a4a4a"/><ellipse cx="278.2" cy="609.3" rx="1.3" ry="1.1" fill="#1a1a1a"/><ellipse cx="287.9" cy="609.7" rx="0.95" ry="0.8" fill="#4a4a4a"/><ellipse cx="293.8" cy="607.1" rx="0.95" ry="0.8" fill="#4a4a4a"/><ellipse cx="296.3" cy="609.1" rx="0.95" ry="0.8" fill="#4a4a4a"/><ellipse cx="299.6" cy="609.7" rx="1.3" ry="1.1" fill="#1a1a1a"/><ellipse cx="302.8" cy="607.8" rx="1.3" ry="1.1" fill="#1a1a1a"/><ellipse cx="312.5" cy="607.1" rx="1.3" ry="1.1" fill="#1a1a1a"/><ellipse cx="313.8" cy="609.7" rx="1.3" ry="1.1" fill="#1a1a1a"/><ellipse cx="320.3" cy="608.4" rx="0.95" ry="0.8" fill="#4a4a4a"/><ellipse cx="331.3" cy="606.5" rx="1.3" ry="1.1" fill="#1a1a1a"/><ellipse cx="341.1" cy="607.1" rx="0.95" ry="0.8" fill="#4a4a4a"/><ellipse cx="293.1" cy="612.3" rx="1.3" ry="1.1" fill="#1a1a1a"/><ellipse cx="286.6" cy="615.6" rx="1.3" ry="1.1" fill="#1a1a1a"/><ellipse cx="291.8" cy="615.3" rx="0.95" ry="0.8" fill="#4a4a4a"/><ellipse cx="297.0" cy="616.8" rx="0.95" ry="0.8" fill="#4a4a4a"/><ellipse cx="300.9" cy="614.9" rx="0.95" ry="0.8" fill="#4a4a4a"/><ellipse cx="308.7" cy="613.6" rx="0.95" ry="0.8" fill="#4a4a4a"/><ellipse cx="314.5" cy="614.0" rx="1.3" ry="1.1" fill="#1a1a1a"/><ellipse cx="319.0" cy="614.9" rx="1.3" ry="1.1" fill="#1a1a1a"/><ellipse cx="321.0" cy="615.6" rx="1.3" ry="1.1" fill="#1a1a1a"/><ellipse cx="325.5" cy="612.3" rx="1.3" ry="1.1" fill="#1a1a1a"/><ellipse cx="326.8" cy="616.2" rx="0.95" ry="0.8" fill="#4a4a4a"/><ellipse cx="339.8" cy="612.3" rx="1.3" ry="1.1" fill="#1a1a1a"/><ellipse cx="289.9" cy="620.1" rx="0.95" ry="0.8" fill="#4a4a4a"/><ellipse cx="313.2" cy="617.5" rx="1.3" ry="1.1" fill="#1a1a1a"/><ellipse cx="320.3" cy="620.7" rx="1.3" ry="1.1" fill="#1a1a1a"/><ellipse cx="333.3" cy="616.6" rx="1.3" ry="1.1" fill="#1a1a1a"/><ellipse cx="331.3" cy="619.2" rx="0.95" ry="0.8" fill="#4a4a4a"/><ellipse cx="343.0" cy="616.8" rx="0.95" ry="0.8" fill="#4a4a4a"/><ellipse cx="309.3" cy="622.0" rx="0.95" ry="0.8" fill="#4a4a4a"/><ellipse cx="315.1" cy="621.4" rx="0.95" ry="0.8" fill="#4a4a4a"/><ellipse cx="322.9" cy="625.9" rx="0.95" ry="0.8" fill="#4a4a4a"/><ellipse cx="303.5" cy="627.2" rx="0.95" ry="0.8" fill="#4a4a4a"/><ellipse cx="310.6" cy="628.5" rx="1.3" ry="1.1" fill="#1a1a1a"/><ellipse cx="314.5" cy="628.3" rx="1.3" ry="1.1" fill="#1a1a1a"/><ellipse cx="326.2" cy="631.8" rx="1.3" ry="1.1" fill="#1a1a1a"/><ellipse cx="328.7" cy="628.5" rx="0.95" ry="0.8" fill="#4a4a4a"/><ellipse cx="333.3" cy="627.0" rx="1.3" ry="1.1" fill="#1a1a1a"/><ellipse cx="336.5" cy="630.8" rx="0.95" ry="0.8" fill="#4a4a4a"/><ellipse cx="323.6" cy="635.6" rx="1.3" ry="1.1" fill="#1a1a1a"/><ellipse cx="332.6" cy="636.3" rx="0.95" ry="0.8" fill="#4a4a4a"/><ellipse cx="341.1" cy="635.0" rx="0.95" ry="0.8" fill="#4a4a4a"/><ellipse cx="339.8" cy="638.9" rx="0.95" ry="0.8" fill="#4a4a4a"/><ellipse cx="306.7" cy="640.8" rx="1.3" ry="1.1" fill="#1a1a1a"/><ellipse cx="313.2" cy="639.9" rx="0.95" ry="0.8" fill="#4a4a4a"/><ellipse cx="332.0" cy="641.7" rx="1.3" ry="1.1" fill="#1a1a1a"/><ellipse cx="341.7" cy="642.8" rx="0.95" ry="0.8" fill="#4a4a4a"/><ellipse cx="311.2" cy="646.0" rx="1.3" ry="1.1" fill="#1a1a1a"/><ellipse cx="315.1" cy="648.0" rx="0.95" ry="0.8" fill="#4a4a4a"/><ellipse cx="319.0" cy="646.9" rx="0.95" ry="0.8" fill="#4a4a4a"/><ellipse cx="326.2" cy="646.0" rx="1.3" ry="1.1" fill="#1a1a1a"/><ellipse cx="335.2" cy="646.0" rx="0.95" ry="0.8" fill="#4a4a4a"/>
<circle cx="361.5" cy="567.3" r="95.8" fill="none" stroke="#000" stroke-width="1.6"/>
<line x1="348" y1="472" x2="348" y2="663" stroke="#000" stroke-width="1.4"/>
<g fill="#fff" stroke="#444" stroke-width="0.9"><path d="M266.5 570 Q268 563 275 562 Q285 560.5 295 561.3 Q305 561.5 314 563.6 L349.3 563.8 L349.3 576.6 L314 576.6 Q305 579.5 295 578.6 Q282 579 274 577.5 Q267.5 576 266.5 570 Z" stroke="#555"/><path d="M314 563.6 L349.3 563.8 M314 576.6 L349.3 576.6" fill="none" stroke="#666" stroke-width="1.2"/><path d="M277 562 L276 578 M283 565 L283 578 M291 563 L290.5 578.5 M298 564 L298.5 578 M305 563 L305 578" fill="none" stroke="#555" stroke-width="0.8"/><path d="M270 567 Q275 565 280 567.5 M272 573 Q277 571 281 573.5 M287 566 L296 566.8 M287 574.5 L296 575" fill="none" stroke="#666" stroke-width="0.8"/><path d="M278.0 568 L279.2 572.5" fill="none" stroke="#333" stroke-width="0.9"/><path d="M281.3 568 L282.5 572.5" fill="none" stroke="#333" stroke-width="0.9"/><path d="M284.6 568 L285.8 572.5" fill="none" stroke="#333" stroke-width="0.9"/><path d="M287.9 568 L289.1 572.5" fill="none" stroke="#333" stroke-width="0.9"/><path d="M291.2 568 L292.4 572.5" fill="none" stroke="#333" stroke-width="0.9"/><path d="M294.5 568 L295.7 572.5" fill="none" stroke="#333" stroke-width="0.9"/><path d="M297.8 568 L299.0 572.5" fill="none" stroke="#333" stroke-width="0.9"/><path d="M301.1 568 L302.3 572.5" fill="none" stroke="#333" stroke-width="0.9"/><path d="M304.4 568 L305.6 572.5" fill="none" stroke="#333" stroke-width="0.9"/><path d="M307.7 568 L308.9 572.5" fill="none" stroke="#333" stroke-width="0.9"/><path d="M308 569.5 L317 569.5 Q318.5 570.3 317 571 L308 571" fill="none" stroke="#555" stroke-width="0.8"/><path d="M305.3 563.5 L312 560.3 L314.1 561 L314 563.8 Z M305.3 576.8 L312 580 L314.1 579.5 L314 576.5 Z" stroke="#555"/><path d="M349.3 562.8 Q351.5 570 349.3 577.3" fill="none" stroke="#555" stroke-width="1"/></g>
<rect x="349.1" y="512.4" width="19.8" height="99.1" fill="#fff" stroke="#111" stroke-width="1.2"/>
<path d="M351 564 Q355 566 360 565.5 Q364 565 366.9 564.4 L372.2 561.5 Q374.5 561.8 375 563.4 Q377 569.5 375 575.8 Q374.5 577.6 372.2 577.8 L366.9 574.9 Q364 574.5 360 575 Q355 574.5 351 576.5 Z" fill="#fff" stroke="#333" stroke-width="1"/><path d="M356 565.5 Q354 570 356 575 M359 565.5 Q357 570 359 575 M362 565 Q360 570 362 575.5 M354 565.8 Q357 567.5 356.5 570 M357 565.8 Q360 567.5 359.5 570 M360 565.5 Q363 567.5 362.5 570" fill="none" stroke="#444" stroke-width="0.8"/><path d="M373.5 562.5 Q375.5 570 373.5 577.5" fill="none" stroke="#666" stroke-width="0.8"/>
<g transform="translate(259.4,0)"><path d="M109.3 538.3 Q125 535 152.4 521.1 L152.9 499.6 Q153.5 495.3 156.7 495.3 Q160.5 495.5 160.5 509.1 L160 528.3 Q160 533 156.7 533.6 L136.6 539.8 Q124 544 120 551 Q118.4 556 118.4 565 L118.4 597.9 Q119 601.7 123.2 601.7 Q138 603 147 599 M109.3 602.2 Q116 609 124.1 611.3 Q135 613 138.5 612.7 Q150 612 157.7 608.9" fill="none" stroke="#111" stroke-width="1.3"/><ellipse cx="150.6" cy="591.8" rx="4" ry="6.8" transform="rotate(25 150.6 591.8)" fill="#fff" stroke="#111" stroke-width="1.2"/><path d="M146.5 598.5 Q151 597.5 155.5 594" fill="none" stroke="#333" stroke-width="1"/><ellipse cx="160.1" cy="595.3" rx="4.8" ry="13.8" transform="rotate(4 160.1 595.3)" fill="#fff" stroke="#111" stroke-width="1.2"/><path d="M158.2 582 Q154.6 595 157.4 608.5" fill="none" stroke="#111" stroke-width="1.9"/></g>
</svg></body></html>
